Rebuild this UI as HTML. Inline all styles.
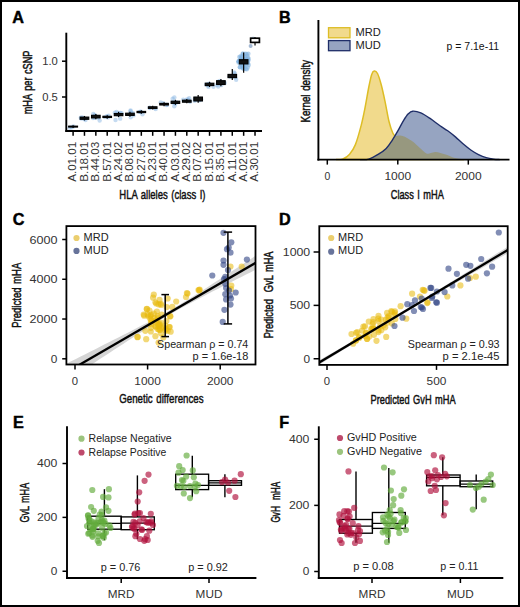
<!DOCTYPE html>
<html><head><meta charset="utf-8"><title>Figure</title>
<style>
html,body{margin:0;padding:0;background:#fff;}
svg{display:block;font-family:"Liberation Sans", sans-serif;}
</style></head>
<body>
<svg width="520" height="607" viewBox="0 0 520 607">
<rect x="0" y="0" width="520" height="607" fill="#fff"/>
<text x="12.2" y="22.5" font-size="16.2" font-weight="bold" fill="#000" stroke="#000" stroke-width="0.45">A</text>
<line x1="66.3" y1="32.7" x2="66.3" y2="131.95" stroke="#000" stroke-width="1.9"/>
<line x1="65.35" y1="131" x2="262" y2="131" stroke="#000" stroke-width="1.9"/>
<line x1="62" y1="61.2" x2="66.3" y2="61.2" stroke="#000" stroke-width="1.5"/>
<text x="57.8" y="64.9" font-size="10.6" fill="#333" text-anchor="end" textLength="15.6" lengthAdjust="spacingAndGlyphs">1.0</text>
<line x1="62" y1="97" x2="66.3" y2="97" stroke="#000" stroke-width="1.5"/>
<text x="57.8" y="100.7" font-size="10.6" fill="#333" text-anchor="end" textLength="15.6" lengthAdjust="spacingAndGlyphs">0.5</text>
<circle cx="71.69" cy="127.36" r="2.2" fill="#7FB0DF" fill-opacity="0.45"/>
<circle cx="69.68" cy="127.66" r="2.2" fill="#7FB0DF" fill-opacity="0.45"/>
<circle cx="73.39" cy="126.39" r="2.2" fill="#7FB0DF" fill-opacity="0.45"/>
<circle cx="84.53" cy="118.59" r="2.2" fill="#7FB0DF" fill-opacity="0.45"/>
<circle cx="80.77" cy="117.68" r="2.2" fill="#7FB0DF" fill-opacity="0.45"/>
<circle cx="81.2" cy="118.43" r="2.2" fill="#7FB0DF" fill-opacity="0.45"/>
<circle cx="83.87" cy="118.56" r="2.2" fill="#7FB0DF" fill-opacity="0.45"/>
<circle cx="82.26" cy="117.52" r="2.2" fill="#7FB0DF" fill-opacity="0.45"/>
<circle cx="85.49" cy="120.06" r="2.2" fill="#7FB0DF" fill-opacity="0.45"/>
<circle cx="95.01" cy="115.71" r="2.2" fill="#7FB0DF" fill-opacity="0.45"/>
<circle cx="99.65" cy="120.58" r="2.2" fill="#7FB0DF" fill-opacity="0.45"/>
<circle cx="94.16" cy="117.8" r="2.2" fill="#7FB0DF" fill-opacity="0.45"/>
<circle cx="92.99" cy="117.93" r="2.2" fill="#7FB0DF" fill-opacity="0.45"/>
<circle cx="98.37" cy="117.82" r="2.2" fill="#7FB0DF" fill-opacity="0.45"/>
<circle cx="93.29" cy="113.99" r="2.2" fill="#7FB0DF" fill-opacity="0.45"/>
<circle cx="94.82" cy="115.13" r="2.2" fill="#7FB0DF" fill-opacity="0.45"/>
<circle cx="96.22" cy="117.28" r="2.2" fill="#7FB0DF" fill-opacity="0.45"/>
<circle cx="104.86" cy="117.1" r="2.2" fill="#7FB0DF" fill-opacity="0.45"/>
<circle cx="108.65" cy="115.73" r="2.2" fill="#7FB0DF" fill-opacity="0.45"/>
<circle cx="107.89" cy="117.47" r="2.2" fill="#7FB0DF" fill-opacity="0.45"/>
<circle cx="106.84" cy="116.08" r="2.2" fill="#7FB0DF" fill-opacity="0.45"/>
<circle cx="120.17" cy="118.66" r="2.2" fill="#7FB0DF" fill-opacity="0.45"/>
<circle cx="116.53" cy="111.99" r="2.2" fill="#7FB0DF" fill-opacity="0.45"/>
<circle cx="121.58" cy="113.28" r="2.2" fill="#7FB0DF" fill-opacity="0.45"/>
<circle cx="120.42" cy="113.01" r="2.2" fill="#7FB0DF" fill-opacity="0.45"/>
<circle cx="115.52" cy="120" r="2.2" fill="#7FB0DF" fill-opacity="0.45"/>
<circle cx="117.92" cy="114.66" r="2.2" fill="#7FB0DF" fill-opacity="0.45"/>
<circle cx="118.49" cy="113.22" r="2.2" fill="#7FB0DF" fill-opacity="0.45"/>
<circle cx="114.89" cy="112.59" r="2.2" fill="#7FB0DF" fill-opacity="0.45"/>
<circle cx="130.53" cy="111.19" r="2.2" fill="#7FB0DF" fill-opacity="0.45"/>
<circle cx="132.95" cy="113.04" r="2.2" fill="#7FB0DF" fill-opacity="0.45"/>
<circle cx="130.7" cy="117.28" r="2.2" fill="#7FB0DF" fill-opacity="0.45"/>
<circle cx="130.59" cy="110.43" r="2.2" fill="#7FB0DF" fill-opacity="0.45"/>
<circle cx="133.51" cy="115.39" r="2.2" fill="#7FB0DF" fill-opacity="0.45"/>
<circle cx="129.74" cy="113.92" r="2.2" fill="#7FB0DF" fill-opacity="0.45"/>
<circle cx="131.56" cy="113.66" r="2.2" fill="#7FB0DF" fill-opacity="0.45"/>
<circle cx="142.5" cy="114.23" r="2.2" fill="#7FB0DF" fill-opacity="0.45"/>
<circle cx="139.6" cy="111.9" r="2.2" fill="#7FB0DF" fill-opacity="0.45"/>
<circle cx="140.41" cy="111.87" r="2.2" fill="#7FB0DF" fill-opacity="0.45"/>
<circle cx="141.01" cy="111.78" r="2.2" fill="#7FB0DF" fill-opacity="0.45"/>
<circle cx="150.03" cy="107.99" r="2.2" fill="#7FB0DF" fill-opacity="0.45"/>
<circle cx="154.84" cy="107.95" r="2.2" fill="#7FB0DF" fill-opacity="0.45"/>
<circle cx="149.72" cy="107.62" r="2.2" fill="#7FB0DF" fill-opacity="0.45"/>
<circle cx="155.66" cy="109.09" r="2.2" fill="#7FB0DF" fill-opacity="0.45"/>
<circle cx="160.7" cy="102.4" r="2.2" fill="#7FB0DF" fill-opacity="0.45"/>
<circle cx="167.13" cy="104.79" r="2.2" fill="#7FB0DF" fill-opacity="0.45"/>
<circle cx="166.61" cy="105" r="2.2" fill="#7FB0DF" fill-opacity="0.45"/>
<circle cx="163.38" cy="103.29" r="2.2" fill="#7FB0DF" fill-opacity="0.45"/>
<circle cx="174.3" cy="106.24" r="2.2" fill="#7FB0DF" fill-opacity="0.45"/>
<circle cx="172.64" cy="98.79" r="2.2" fill="#7FB0DF" fill-opacity="0.45"/>
<circle cx="172.84" cy="102.47" r="2.2" fill="#7FB0DF" fill-opacity="0.45"/>
<circle cx="175.31" cy="103.82" r="2.2" fill="#7FB0DF" fill-opacity="0.45"/>
<circle cx="176.14" cy="102.28" r="2.2" fill="#7FB0DF" fill-opacity="0.45"/>
<circle cx="174.78" cy="102.49" r="2.2" fill="#7FB0DF" fill-opacity="0.45"/>
<circle cx="174.38" cy="97.55" r="2.2" fill="#7FB0DF" fill-opacity="0.45"/>
<circle cx="188.32" cy="99.7" r="2.2" fill="#7FB0DF" fill-opacity="0.45"/>
<circle cx="186.92" cy="99.53" r="2.2" fill="#7FB0DF" fill-opacity="0.45"/>
<circle cx="183.23" cy="99.68" r="2.2" fill="#7FB0DF" fill-opacity="0.45"/>
<circle cx="190" cy="101.77" r="2.2" fill="#7FB0DF" fill-opacity="0.45"/>
<circle cx="189.18" cy="98.2" r="2.2" fill="#7FB0DF" fill-opacity="0.45"/>
<circle cx="185.94" cy="100.64" r="2.2" fill="#7FB0DF" fill-opacity="0.45"/>
<circle cx="199.24" cy="99.75" r="2.2" fill="#7FB0DF" fill-opacity="0.45"/>
<circle cx="194.67" cy="100.68" r="2.2" fill="#7FB0DF" fill-opacity="0.45"/>
<circle cx="195.47" cy="99.76" r="2.2" fill="#7FB0DF" fill-opacity="0.45"/>
<circle cx="196.89" cy="99.06" r="2.2" fill="#7FB0DF" fill-opacity="0.45"/>
<circle cx="195.38" cy="99.02" r="2.2" fill="#7FB0DF" fill-opacity="0.45"/>
<circle cx="194.98" cy="98.6" r="2.2" fill="#7FB0DF" fill-opacity="0.45"/>
<circle cx="201.16" cy="99.46" r="2.2" fill="#7FB0DF" fill-opacity="0.45"/>
<circle cx="199.08" cy="100.23" r="2.2" fill="#7FB0DF" fill-opacity="0.45"/>
<circle cx="208.32" cy="85.5" r="2.2" fill="#7FB0DF" fill-opacity="0.45"/>
<circle cx="208.45" cy="86.91" r="2.2" fill="#7FB0DF" fill-opacity="0.45"/>
<circle cx="213.48" cy="86.84" r="2.2" fill="#7FB0DF" fill-opacity="0.45"/>
<circle cx="209.27" cy="83.64" r="2.2" fill="#7FB0DF" fill-opacity="0.45"/>
<circle cx="206.36" cy="84.48" r="2.2" fill="#7FB0DF" fill-opacity="0.45"/>
<circle cx="208.28" cy="84.09" r="2.2" fill="#7FB0DF" fill-opacity="0.45"/>
<circle cx="218.2" cy="86.53" r="2.2" fill="#7FB0DF" fill-opacity="0.45"/>
<circle cx="217.09" cy="85.05" r="2.2" fill="#7FB0DF" fill-opacity="0.45"/>
<circle cx="218.08" cy="81.82" r="2.2" fill="#7FB0DF" fill-opacity="0.45"/>
<circle cx="221.26" cy="85.14" r="2.2" fill="#7FB0DF" fill-opacity="0.45"/>
<circle cx="224.74" cy="83.04" r="2.2" fill="#7FB0DF" fill-opacity="0.45"/>
<circle cx="223.82" cy="82.06" r="2.2" fill="#7FB0DF" fill-opacity="0.45"/>
<circle cx="219.84" cy="81.06" r="2.2" fill="#7FB0DF" fill-opacity="0.45"/>
<circle cx="229.62" cy="76.36" r="2.2" fill="#7FB0DF" fill-opacity="0.45"/>
<circle cx="234.51" cy="73.43" r="2.2" fill="#7FB0DF" fill-opacity="0.45"/>
<circle cx="230.92" cy="76.65" r="2.2" fill="#7FB0DF" fill-opacity="0.45"/>
<circle cx="236.16" cy="79.78" r="2.2" fill="#7FB0DF" fill-opacity="0.45"/>
<circle cx="235.1" cy="77.34" r="2.2" fill="#7FB0DF" fill-opacity="0.45"/>
<circle cx="234.2" cy="72.36" r="2.2" fill="#7FB0DF" fill-opacity="0.45"/>
<circle cx="240.81" cy="57.89" r="2.2" fill="#7FB0DF" fill-opacity="0.55"/>
<circle cx="238.75" cy="61.36" r="2.2" fill="#7FB0DF" fill-opacity="0.55"/>
<circle cx="238.74" cy="61.2" r="2.2" fill="#7FB0DF" fill-opacity="0.55"/>
<circle cx="245.65" cy="65" r="2.2" fill="#7FB0DF" fill-opacity="0.55"/>
<circle cx="248.4" cy="53.8" r="2.2" fill="#7FB0DF" fill-opacity="0.55"/>
<circle cx="248.73" cy="65.02" r="2.2" fill="#7FB0DF" fill-opacity="0.55"/>
<circle cx="248.38" cy="59.84" r="2.2" fill="#7FB0DF" fill-opacity="0.55"/>
<circle cx="240.81" cy="64.03" r="2.2" fill="#7FB0DF" fill-opacity="0.55"/>
<circle cx="240.5" cy="63.46" r="2.2" fill="#7FB0DF" fill-opacity="0.55"/>
<circle cx="247.81" cy="67.44" r="2.2" fill="#7FB0DF" fill-opacity="0.55"/>
<circle cx="247.19" cy="55.74" r="2.2" fill="#7FB0DF" fill-opacity="0.55"/>
<circle cx="246.77" cy="62.59" r="2.2" fill="#7FB0DF" fill-opacity="0.55"/>
<circle cx="239.33" cy="56.89" r="2.2" fill="#7FB0DF" fill-opacity="0.55"/>
<circle cx="246.59" cy="54" r="2.2" fill="#7FB0DF" fill-opacity="0.55"/>
<circle cx="246.25" cy="59.19" r="2.2" fill="#7FB0DF" fill-opacity="0.55"/>
<circle cx="246.66" cy="62.16" r="2.2" fill="#7FB0DF" fill-opacity="0.55"/>
<circle cx="241.91" cy="65.32" r="2.2" fill="#7FB0DF" fill-opacity="0.55"/>
<circle cx="242.57" cy="53.8" r="2.2" fill="#7FB0DF" fill-opacity="0.55"/>
<circle cx="242.62" cy="68.17" r="2.2" fill="#7FB0DF" fill-opacity="0.55"/>
<circle cx="240.22" cy="59.59" r="2.2" fill="#7FB0DF" fill-opacity="0.55"/>
<circle cx="239.77" cy="67.1" r="2.2" fill="#7FB0DF" fill-opacity="0.55"/>
<circle cx="246.84" cy="69.21" r="2.2" fill="#7FB0DF" fill-opacity="0.55"/>
<circle cx="239.97" cy="67.24" r="2.2" fill="#7FB0DF" fill-opacity="0.55"/>
<circle cx="245.29" cy="53.8" r="2.2" fill="#7FB0DF" fill-opacity="0.55"/>
<circle cx="242.09" cy="59.68" r="2.2" fill="#7FB0DF" fill-opacity="0.55"/>
<circle cx="238.6" cy="61.13" r="2.2" fill="#7FB0DF" fill-opacity="0.55"/>
<circle cx="248.55" cy="58.77" r="2.2" fill="#7FB0DF" fill-opacity="0.55"/>
<circle cx="248.16" cy="57.65" r="2.2" fill="#7FB0DF" fill-opacity="0.55"/>
<circle cx="242.96" cy="67.24" r="2.2" fill="#7FB0DF" fill-opacity="0.55"/>
<circle cx="240.64" cy="56.13" r="2.2" fill="#7FB0DF" fill-opacity="0.55"/>
<circle cx="241.07" cy="60.97" r="2.2" fill="#7FB0DF" fill-opacity="0.55"/>
<circle cx="244.55" cy="64.8" r="2.2" fill="#7FB0DF" fill-opacity="0.55"/>
<circle cx="241.15" cy="59.86" r="2.2" fill="#7FB0DF" fill-opacity="0.55"/>
<circle cx="247.91" cy="62.88" r="2.2" fill="#7FB0DF" fill-opacity="0.55"/>
<circle cx="242.13" cy="56.43" r="2.2" fill="#7FB0DF" fill-opacity="0.55"/>
<circle cx="247.85" cy="63.24" r="2.2" fill="#7FB0DF" fill-opacity="0.55"/>
<circle cx="242.82" cy="66.11" r="2.2" fill="#7FB0DF" fill-opacity="0.55"/>
<circle cx="243.98" cy="59.35" r="2.2" fill="#7FB0DF" fill-opacity="0.55"/>
<circle cx="243.89" cy="66.29" r="2.2" fill="#7FB0DF" fill-opacity="0.55"/>
<circle cx="240.35" cy="62.33" r="2.2" fill="#7FB0DF" fill-opacity="0.55"/>
<circle cx="238.49" cy="62.59" r="2.2" fill="#7FB0DF" fill-opacity="0.55"/>
<circle cx="243.37" cy="59.34" r="2.2" fill="#7FB0DF" fill-opacity="0.55"/>
<circle cx="245.99" cy="58.3" r="2.2" fill="#7FB0DF" fill-opacity="0.55"/>
<circle cx="243.84" cy="60.5" r="2.2" fill="#7FB0DF" fill-opacity="0.55"/>
<circle cx="244.23" cy="62.23" r="2.2" fill="#7FB0DF" fill-opacity="0.55"/>
<circle cx="244.28" cy="59.86" r="2.2" fill="#7FB0DF" fill-opacity="0.55"/>
<circle cx="241.03" cy="60.58" r="2.2" fill="#7FB0DF" fill-opacity="0.55"/>
<circle cx="243.73" cy="68.92" r="2.2" fill="#7FB0DF" fill-opacity="0.55"/>
<circle cx="244.29" cy="62.38" r="2.2" fill="#7FB0DF" fill-opacity="0.55"/>
<circle cx="243.06" cy="53.8" r="2.2" fill="#7FB0DF" fill-opacity="0.55"/>
<circle cx="244.82" cy="56.77" r="2.2" fill="#7FB0DF" fill-opacity="0.55"/>
<circle cx="245.65" cy="61.62" r="2.2" fill="#7FB0DF" fill-opacity="0.55"/>
<circle cx="243.15" cy="57.12" r="2.2" fill="#7FB0DF" fill-opacity="0.55"/>
<circle cx="248.24" cy="60.81" r="2.2" fill="#7FB0DF" fill-opacity="0.55"/>
<circle cx="245.72" cy="68.96" r="2.2" fill="#7FB0DF" fill-opacity="0.55"/>
<circle cx="253.1" cy="38.8" r="2.2" fill="#7FB0DF" fill-opacity="0.45"/>
<circle cx="250.6" cy="45.9" r="2.0" fill="#8FA8C8" fill-opacity="0.8"/>
<line x1="73.1" y1="125.2" x2="73.1" y2="128" stroke="#000" stroke-width="1.2"/>
<rect x="68.6" y="126.1" width="9" height="1" fill="#111" stroke="#000" stroke-width="1.0" />
<line x1="84.47" y1="115.95" x2="84.47" y2="120.45" stroke="#000" stroke-width="1.2"/>
<rect x="80.17" y="117.1" width="8.6" height="2.2" fill="#111" stroke="#000" stroke-width="1.1" />
<line x1="95.84" y1="113.9" x2="95.84" y2="119.3" stroke="#000" stroke-width="1.2"/>
<rect x="91.54" y="115.3" width="8.6" height="2.6" fill="#111" stroke="#000" stroke-width="1.1" />
<line x1="107.21" y1="115.15" x2="107.21" y2="118.65" stroke="#000" stroke-width="1.2"/>
<rect x="102.91" y="116.3" width="8.6" height="1.2" fill="#111" stroke="#000" stroke-width="1.1" />
<line x1="118.58" y1="111.85" x2="118.58" y2="117.1" stroke="#000" stroke-width="1.2"/>
<rect x="114.28" y="113.5" width="8.6" height="2.2" fill="#111" stroke="#000" stroke-width="1.1" />
<line x1="129.95" y1="111.8" x2="129.95" y2="116.8" stroke="#000" stroke-width="1.2"/>
<rect x="125.65" y="113.2" width="8.6" height="2.2" fill="#111" stroke="#000" stroke-width="1.1" />
<line x1="141.32" y1="110.25" x2="141.32" y2="113.75" stroke="#000" stroke-width="1.2"/>
<rect x="137.02" y="111.4" width="8.6" height="1.2" fill="#111" stroke="#000" stroke-width="1.1" />
<line x1="152.69" y1="105.65" x2="152.69" y2="109.55" stroke="#000" stroke-width="1.2"/>
<rect x="148.39" y="106.8" width="8.6" height="1.6" fill="#111" stroke="#000" stroke-width="1.1" />
<line x1="164.06" y1="102.25" x2="164.06" y2="106.15" stroke="#000" stroke-width="1.2"/>
<rect x="159.76" y="103.4" width="8.6" height="1.6" fill="#111" stroke="#000" stroke-width="1.1" />
<line x1="175.43" y1="99.8" x2="175.43" y2="104.8" stroke="#000" stroke-width="1.2"/>
<rect x="171.13" y="101.2" width="8.6" height="2.2" fill="#111" stroke="#000" stroke-width="1.1" />
<line x1="186.8" y1="99.05" x2="186.8" y2="103.35" stroke="#000" stroke-width="1.2"/>
<rect x="182.5" y="100.2" width="8.6" height="2" fill="#111" stroke="#000" stroke-width="1.1" />
<line x1="198.17" y1="94.9" x2="198.17" y2="102.85" stroke="#000" stroke-width="1.2"/>
<rect x="193.87" y="97.05" width="8.6" height="3.9" fill="#111" stroke="#000" stroke-width="1.1" />
<line x1="209.54" y1="81.8" x2="209.54" y2="87" stroke="#000" stroke-width="1.2"/>
<rect x="205.24" y="83.2" width="8.6" height="2.4" fill="#111" stroke="#000" stroke-width="1.1" />
<line x1="220.91" y1="79.05" x2="220.91" y2="86.15" stroke="#000" stroke-width="1.2"/>
<rect x="216.61" y="80.7" width="8.6" height="3.8" fill="#111" stroke="#000" stroke-width="1.1" />
<line x1="232.28" y1="69" x2="232.28" y2="80" stroke="#000" stroke-width="1.2"/>
<rect x="227.98" y="74.4" width="8.6" height="3.2" fill="#111" stroke="#000" stroke-width="1.1" />
<line x1="243.65" y1="52.4" x2="243.65" y2="72.8" stroke="#000" stroke-width="1.2"/>
<rect x="239.35" y="59.7" width="8.6" height="4.2" fill="#111" stroke="#000" stroke-width="1.1" />
<line x1="255.02" y1="37.2" x2="255.02" y2="45.4" stroke="#000" stroke-width="1.2"/>
<rect x="250.62" y="38.2" width="8.8" height="4.2" fill="#fff" stroke="#000" stroke-width="1.7" />
<line x1="73.1" y1="131" x2="73.1" y2="135.8" stroke="#000" stroke-width="1.5"/>
<text transform="translate(76.4,141.8) rotate(-90)" font-size="11.2" fill="#333" text-anchor="end" textLength="40" lengthAdjust="spacingAndGlyphs">A.01.01</text>
<line x1="84.47" y1="131" x2="84.47" y2="135.8" stroke="#000" stroke-width="1.5"/>
<text transform="translate(87.77,141.8) rotate(-90)" font-size="11.2" fill="#333" text-anchor="end" textLength="40" lengthAdjust="spacingAndGlyphs">B.18.01</text>
<line x1="95.84" y1="131" x2="95.84" y2="135.8" stroke="#000" stroke-width="1.5"/>
<text transform="translate(99.14,141.8) rotate(-90)" font-size="11.2" fill="#333" text-anchor="end" textLength="40" lengthAdjust="spacingAndGlyphs">B.44.03</text>
<line x1="107.21" y1="131" x2="107.21" y2="135.8" stroke="#000" stroke-width="1.5"/>
<text transform="translate(110.51,141.8) rotate(-90)" font-size="11.2" fill="#333" text-anchor="end" textLength="40" lengthAdjust="spacingAndGlyphs">B.57.01</text>
<line x1="118.58" y1="131" x2="118.58" y2="135.8" stroke="#000" stroke-width="1.5"/>
<text transform="translate(121.88,141.8) rotate(-90)" font-size="11.2" fill="#333" text-anchor="end" textLength="40" lengthAdjust="spacingAndGlyphs">A.24.02</text>
<line x1="129.95" y1="131" x2="129.95" y2="135.8" stroke="#000" stroke-width="1.5"/>
<text transform="translate(133.25,141.8) rotate(-90)" font-size="11.2" fill="#333" text-anchor="end" textLength="40" lengthAdjust="spacingAndGlyphs">B.08.01</text>
<line x1="141.32" y1="131" x2="141.32" y2="135.8" stroke="#000" stroke-width="1.5"/>
<text transform="translate(144.62,141.8) rotate(-90)" font-size="11.2" fill="#333" text-anchor="end" textLength="40" lengthAdjust="spacingAndGlyphs">B.27.05</text>
<line x1="152.69" y1="131" x2="152.69" y2="135.8" stroke="#000" stroke-width="1.5"/>
<text transform="translate(155.99,141.8) rotate(-90)" font-size="11.2" fill="#333" text-anchor="end" textLength="40" lengthAdjust="spacingAndGlyphs">A.23.01</text>
<line x1="164.06" y1="131" x2="164.06" y2="135.8" stroke="#000" stroke-width="1.5"/>
<text transform="translate(167.36,141.8) rotate(-90)" font-size="11.2" fill="#333" text-anchor="end" textLength="40" lengthAdjust="spacingAndGlyphs">B.40.01</text>
<line x1="175.43" y1="131" x2="175.43" y2="135.8" stroke="#000" stroke-width="1.5"/>
<text transform="translate(178.73,141.8) rotate(-90)" font-size="11.2" fill="#333" text-anchor="end" textLength="40" lengthAdjust="spacingAndGlyphs">A.03.01</text>
<line x1="186.8" y1="131" x2="186.8" y2="135.8" stroke="#000" stroke-width="1.5"/>
<text transform="translate(190.1,141.8) rotate(-90)" font-size="11.2" fill="#333" text-anchor="end" textLength="40" lengthAdjust="spacingAndGlyphs">A.29.02</text>
<line x1="198.17" y1="131" x2="198.17" y2="135.8" stroke="#000" stroke-width="1.5"/>
<text transform="translate(201.47,141.8) rotate(-90)" font-size="11.2" fill="#333" text-anchor="end" textLength="40" lengthAdjust="spacingAndGlyphs">B.07.02</text>
<line x1="209.54" y1="131" x2="209.54" y2="135.8" stroke="#000" stroke-width="1.5"/>
<text transform="translate(212.84,141.8) rotate(-90)" font-size="11.2" fill="#333" text-anchor="end" textLength="40" lengthAdjust="spacingAndGlyphs">B.15.01</text>
<line x1="220.91" y1="131" x2="220.91" y2="135.8" stroke="#000" stroke-width="1.5"/>
<text transform="translate(224.21,141.8) rotate(-90)" font-size="11.2" fill="#333" text-anchor="end" textLength="40" lengthAdjust="spacingAndGlyphs">B.35.01</text>
<line x1="232.28" y1="131" x2="232.28" y2="135.8" stroke="#000" stroke-width="1.5"/>
<text transform="translate(235.58,141.8) rotate(-90)" font-size="11.2" fill="#333" text-anchor="end" textLength="40" lengthAdjust="spacingAndGlyphs">A.11.01</text>
<line x1="243.65" y1="131" x2="243.65" y2="135.8" stroke="#000" stroke-width="1.5"/>
<text transform="translate(246.95,141.8) rotate(-90)" font-size="11.2" fill="#333" text-anchor="end" textLength="40" lengthAdjust="spacingAndGlyphs">A.02.01</text>
<line x1="255.02" y1="131" x2="255.02" y2="135.8" stroke="#000" stroke-width="1.5"/>
<text transform="translate(258.32,141.8) rotate(-90)" font-size="11.2" fill="#333" text-anchor="end" textLength="40" lengthAdjust="spacingAndGlyphs">A.30.01</text>
<text x="119.3" y="198.8" font-size="13.6" fill="#111" stroke="#111" stroke-width="0.48" word-spacing="1.3" textLength="86.2" lengthAdjust="spacingAndGlyphs">HLA alleles (class I)</text>
<text transform="translate(32.3,114.3) rotate(-90)" font-size="12.4" fill="#111" stroke="#111" stroke-width="0.48" word-spacing="1.3" textLength="63.8" lengthAdjust="spacingAndGlyphs">mHA per cSNP</text>
<text x="279" y="23" font-size="16.2" font-weight="bold" fill="#000" stroke="#000" stroke-width="0.45">B</text>
<clipPath id="clipmud"><path d="M360,159.6 C361.47,159.52 365.72,160 368.8,159.1 C371.88,158.2 375.6,155.97 378.5,154.2 C381.4,152.43 383.97,150.73 386.2,148.5 C388.43,146.27 389.98,143.68 391.9,140.8 C393.82,137.92 395.77,134.57 397.7,131.2 C399.63,127.83 401.73,123.5 403.5,120.6 C405.27,117.7 406.77,115.37 408.3,113.8 C409.83,112.23 410.62,111.35 412.7,111.2 C414.78,111.05 417.85,111.65 420.8,112.9 C423.75,114.15 427.2,116.55 430.4,118.7 C433.6,120.85 437.12,123.78 440,125.8 C442.88,127.82 445.13,128.95 447.7,130.8 C450.27,132.65 452.85,134.73 455.4,136.9 C457.95,139.07 460.43,141.62 463,143.8 C465.57,145.98 468.22,148.2 470.8,150 C473.38,151.8 475.93,153.32 478.5,154.6 C481.07,155.88 483.65,156.93 486.2,157.7 C488.75,158.47 491.5,158.88 493.8,159.2 C496.1,159.52 498.97,159.53 500,159.6 Z"/></clipPath>
<path d="M336,159.6 C337.15,159.5 340.63,159.9 342.9,159 C345.17,158.1 347.52,156.6 349.6,154.2 C351.68,151.8 353.47,149.4 355.4,144.6 C357.33,139.8 359.6,131.5 361.2,125.4 C362.8,119.3 363.73,114.4 365,108 C366.27,101.6 367.68,92.6 368.8,87 C369.92,81.4 370.8,77.07 371.7,74.4 C372.6,71.73 373.23,71.15 374.2,71 C375.17,70.85 376.32,71.17 377.5,73.5 C378.68,75.83 380.02,80.2 381.3,85 C382.58,89.8 383.92,96.22 385.2,102.3 C386.48,108.38 387.72,116.35 389,121.5 C390.28,126.65 391.8,130.78 392.9,133.2 C394,135.62 394.58,135.6 395.6,136 C396.62,136.4 397.6,135.53 399,135.6 C400.4,135.67 402.58,135.97 404,136.4 C405.42,136.83 406.05,137.33 407.5,138.2 C408.95,139.07 410.68,140.02 412.7,141.6 C414.72,143.18 417.3,145.73 419.6,147.7 C421.9,149.67 424.63,152.5 426.5,153.4 C428.37,154.3 429.35,153.33 430.8,153.1 C432.25,152.87 433.6,152.03 435.2,152 C436.8,151.97 438.67,152.47 440.4,152.9 C442.13,153.33 443.58,153.88 445.6,154.6 C447.62,155.32 450.48,156.53 452.5,157.2 C454.52,157.87 455.78,158.2 457.7,158.6 C459.62,159 462.95,159.43 464,159.6 Z" fill="#F1DA8C" stroke="#DDBD25" stroke-width="1.5"/>
<path d="M360,159.6 C361.47,159.52 365.72,160 368.8,159.1 C371.88,158.2 375.6,155.97 378.5,154.2 C381.4,152.43 383.97,150.73 386.2,148.5 C388.43,146.27 389.98,143.68 391.9,140.8 C393.82,137.92 395.77,134.57 397.7,131.2 C399.63,127.83 401.73,123.5 403.5,120.6 C405.27,117.7 406.77,115.37 408.3,113.8 C409.83,112.23 410.62,111.35 412.7,111.2 C414.78,111.05 417.85,111.65 420.8,112.9 C423.75,114.15 427.2,116.55 430.4,118.7 C433.6,120.85 437.12,123.78 440,125.8 C442.88,127.82 445.13,128.95 447.7,130.8 C450.27,132.65 452.85,134.73 455.4,136.9 C457.95,139.07 460.43,141.62 463,143.8 C465.57,145.98 468.22,148.2 470.8,150 C473.38,151.8 475.93,153.32 478.5,154.6 C481.07,155.88 483.65,156.93 486.2,157.7 C488.75,158.47 491.5,158.88 493.8,159.2 C496.1,159.52 498.97,159.53 500,159.6 Z" fill="#96A4C1"/>
<path d="M336,159.6 C337.15,159.5 340.63,159.9 342.9,159 C345.17,158.1 347.52,156.6 349.6,154.2 C351.68,151.8 353.47,149.4 355.4,144.6 C357.33,139.8 359.6,131.5 361.2,125.4 C362.8,119.3 363.73,114.4 365,108 C366.27,101.6 367.68,92.6 368.8,87 C369.92,81.4 370.8,77.07 371.7,74.4 C372.6,71.73 373.23,71.15 374.2,71 C375.17,70.85 376.32,71.17 377.5,73.5 C378.68,75.83 380.02,80.2 381.3,85 C382.58,89.8 383.92,96.22 385.2,102.3 C386.48,108.38 387.72,116.35 389,121.5 C390.28,126.65 391.8,130.78 392.9,133.2 C394,135.62 394.58,135.6 395.6,136 C396.62,136.4 397.6,135.53 399,135.6 C400.4,135.67 402.58,135.97 404,136.4 C405.42,136.83 406.05,137.33 407.5,138.2 C408.95,139.07 410.68,140.02 412.7,141.6 C414.72,143.18 417.3,145.73 419.6,147.7 C421.9,149.67 424.63,152.5 426.5,153.4 C428.37,154.3 429.35,153.33 430.8,153.1 C432.25,152.87 433.6,152.03 435.2,152 C436.8,151.97 438.67,152.47 440.4,152.9 C442.13,153.33 443.58,153.88 445.6,154.6 C447.62,155.32 450.48,156.53 452.5,157.2 C454.52,157.87 455.78,158.2 457.7,158.6 C459.62,159 462.95,159.43 464,159.6 Z" fill="#97987F" clip-path="url(#clipmud)"/>
<path d="M360,159.6 C361.47,159.52 365.72,160 368.8,159.1 C371.88,158.2 375.6,155.97 378.5,154.2 C381.4,152.43 383.97,150.73 386.2,148.5 C388.43,146.27 389.98,143.68 391.9,140.8 C393.82,137.92 395.77,134.57 397.7,131.2 C399.63,127.83 401.73,123.5 403.5,120.6 C405.27,117.7 406.77,115.37 408.3,113.8 C409.83,112.23 410.62,111.35 412.7,111.2 C414.78,111.05 417.85,111.65 420.8,112.9 C423.75,114.15 427.2,116.55 430.4,118.7 C433.6,120.85 437.12,123.78 440,125.8 C442.88,127.82 445.13,128.95 447.7,130.8 C450.27,132.65 452.85,134.73 455.4,136.9 C457.95,139.07 460.43,141.62 463,143.8 C465.57,145.98 468.22,148.2 470.8,150 C473.38,151.8 475.93,153.32 478.5,154.6 C481.07,155.88 483.65,156.93 486.2,157.7 C488.75,158.47 491.5,158.88 493.8,159.2 C496.1,159.52 498.97,159.53 500,159.6" fill="none" stroke="#1F2E68" stroke-width="1.4"/>
<line x1="318.4" y1="20" x2="318.4" y2="160.55" stroke="#000" stroke-width="1.9"/>
<line x1="317.45" y1="159.6" x2="509.5" y2="159.6" stroke="#000" stroke-width="1.9"/>
<line x1="327.3" y1="159.6" x2="327.3" y2="164.6" stroke="#000" stroke-width="1.5"/>
<text x="327.3" y="179.7" font-size="10.4" fill="#333" text-anchor="middle" textLength="5.8" lengthAdjust="spacingAndGlyphs">0</text>
<line x1="397.8" y1="159.6" x2="397.8" y2="164.6" stroke="#000" stroke-width="1.5"/>
<text x="397.8" y="179.7" font-size="10.4" fill="#333" text-anchor="middle" textLength="26.7" lengthAdjust="spacingAndGlyphs">1000</text>
<line x1="468.3" y1="159.6" x2="468.3" y2="164.6" stroke="#000" stroke-width="1.5"/>
<text x="468.3" y="179.7" font-size="10.4" fill="#333" text-anchor="middle" textLength="26.7" lengthAdjust="spacingAndGlyphs">2000</text>
<rect x="328.5" y="27.7" width="21.5" height="10.1" fill="#F1DA8C" stroke="#DDBD25" stroke-width="1.3" />
<rect x="328.5" y="40.6" width="21.5" height="10.1" fill="#96A4C1" stroke="#1F2E68" stroke-width="1.3" />
<text x="355.4" y="36.3" font-size="11.4" fill="#222" textLength="25.3" lengthAdjust="spacingAndGlyphs">MRD</text>
<text x="355.4" y="49.4" font-size="11.4" fill="#222" textLength="25.3" lengthAdjust="spacingAndGlyphs">MUD</text>
<text x="446.6" y="49.7" font-size="10.2" fill="#111" textLength="52.4" lengthAdjust="spacingAndGlyphs">p = 7.1e-11</text>
<text transform="translate(309.5,122.6) rotate(-90)" font-size="12.3" fill="#111" stroke="#111" stroke-width="0.48" word-spacing="1.3" textLength="62.6" lengthAdjust="spacingAndGlyphs">Kernel density</text>
<text x="390.8" y="199" font-size="13.4" fill="#111" stroke="#111" stroke-width="0.48" word-spacing="1.3" textLength="53" lengthAdjust="spacingAndGlyphs">Class I mHA</text>
<text x="12.8" y="224.8" font-size="16.2" font-weight="bold" fill="#000" stroke="#000" stroke-width="0.45">C</text>
<clipPath id="clipC"><rect x="66.4" y="226.1" width="189.1" height="138.4"/></clipPath>
<clipPath id="clipD"><rect x="319.3" y="226.2" width="188.4" height="138.4"/></clipPath>
<g clip-path="url(#clipC)">
<polygon points="66.4,363.63 71.13,361.26 75.86,358.88 80.58,356.51 85.31,354.14 90.04,351.76 94.77,349.38 99.49,347 104.22,344.62 108.95,342.23 113.68,339.84 118.4,337.45 123.13,335.05 127.86,332.64 132.59,330.22 137.31,327.79 142.04,325.35 146.77,322.89 151.5,320.4 156.22,317.87 160.95,315.31 165.68,312.69 170.41,310.01 175.13,307.26 179.86,304.45 184.59,301.57 189.31,298.65 194.04,295.69 198.77,292.69 203.5,289.67 208.22,286.64 212.95,283.59 217.68,280.53 222.41,277.46 227.13,274.38 231.86,271.3 236.59,268.21 241.32,265.13 246.05,262.03 250.77,258.94 255.5,255.84 255.5,269.85 250.77,272.22 246.05,274.6 241.32,276.98 236.59,279.37 231.86,281.76 227.13,284.15 222.41,286.55 217.68,288.96 212.95,291.37 208.22,293.79 203.5,296.23 198.77,298.69 194.04,301.17 189.31,303.68 184.59,306.23 179.86,308.83 175.13,311.49 170.41,314.22 165.68,317.01 160.95,319.87 156.22,322.78 151.5,325.73 146.77,328.71 142.04,331.72 137.31,334.75 132.59,337.8 127.86,340.86 123.13,343.92 118.4,347 113.68,350.08 108.95,353.16 104.22,356.25 99.49,359.34 94.77,362.43 90.04,365.53 85.31,368.63 80.58,371.73 75.86,374.83 71.13,377.93 66.4,381.04" fill="#D5D5D5"/>
<circle cx="153.8" cy="294.6" r="3.1" fill="#E8B90C" fill-opacity="0.56"/>
<circle cx="153.1" cy="297.7" r="3.1" fill="#E8B90C" fill-opacity="0.56"/>
<circle cx="155.4" cy="302.3" r="3.1" fill="#E8B90C" fill-opacity="0.56"/>
<circle cx="160.8" cy="303.8" r="3.1" fill="#E8B90C" fill-opacity="0.56"/>
<circle cx="167.7" cy="298.5" r="3.1" fill="#E8B90C" fill-opacity="0.56"/>
<circle cx="176.2" cy="301.5" r="3.1" fill="#E8B90C" fill-opacity="0.56"/>
<circle cx="186.9" cy="293.1" r="3.1" fill="#E8B90C" fill-opacity="0.56"/>
<circle cx="198.5" cy="290" r="3.1" fill="#E8B90C" fill-opacity="0.56"/>
<circle cx="187.5" cy="293.6" r="3.1" fill="#E8B90C" fill-opacity="0.56"/>
<circle cx="199.6" cy="289.5" r="3.1" fill="#E8B90C" fill-opacity="0.56"/>
<circle cx="146.9" cy="309.2" r="3.1" fill="#E8B90C" fill-opacity="0.56"/>
<circle cx="147.7" cy="314.6" r="3.1" fill="#E8B90C" fill-opacity="0.56"/>
<circle cx="150.5" cy="316" r="3.1" fill="#E8B90C" fill-opacity="0.56"/>
<circle cx="156.9" cy="311.5" r="3.1" fill="#E8B90C" fill-opacity="0.56"/>
<circle cx="161.5" cy="314.6" r="3.1" fill="#E8B90C" fill-opacity="0.56"/>
<circle cx="170" cy="316.2" r="3.1" fill="#E8B90C" fill-opacity="0.56"/>
<circle cx="172.3" cy="306.9" r="3.1" fill="#E8B90C" fill-opacity="0.56"/>
<circle cx="169.2" cy="327" r="3.1" fill="#E8B90C" fill-opacity="0.56"/>
<circle cx="137.7" cy="336.9" r="3.1" fill="#E8B90C" fill-opacity="0.56"/>
<circle cx="146.2" cy="339.2" r="3.1" fill="#E8B90C" fill-opacity="0.56"/>
<circle cx="155.4" cy="336.2" r="3.1" fill="#E8B90C" fill-opacity="0.56"/>
<circle cx="150.8" cy="331.5" r="3.1" fill="#E8B90C" fill-opacity="0.56"/>
<circle cx="160" cy="330" r="3.1" fill="#E8B90C" fill-opacity="0.56"/>
<circle cx="146.8" cy="308.9" r="3.1" fill="#E8B90C" fill-opacity="0.56"/>
<circle cx="156.2" cy="303.5" r="3.1" fill="#E8B90C" fill-opacity="0.56"/>
<circle cx="161" cy="305" r="3.1" fill="#E8B90C" fill-opacity="0.56"/>
<circle cx="170.4" cy="316.3" r="3.1" fill="#E8B90C" fill-opacity="0.56"/>
<circle cx="169.7" cy="327.1" r="3.1" fill="#E8B90C" fill-opacity="0.56"/>
<circle cx="137.4" cy="337.2" r="3.1" fill="#E8B90C" fill-opacity="0.56"/>
<circle cx="199.3" cy="290.4" r="3.1" fill="#E8B90C" fill-opacity="0.56"/>
<circle cx="230.5" cy="266.5" r="3.1" fill="#E8B90C" fill-opacity="0.56"/>
<circle cx="241.7" cy="266.5" r="3.1" fill="#E8B90C" fill-opacity="0.56"/>
<circle cx="231.3" cy="285.6" r="3.1" fill="#E8B90C" fill-opacity="0.56"/>
<circle cx="231" cy="289" r="3.1" fill="#E8B90C" fill-opacity="0.56"/>
<circle cx="186" cy="297" r="3.1" fill="#E8B90C" fill-opacity="0.56"/>
<circle cx="143.73" cy="314.56" r="3.1" fill="#E8B90C" fill-opacity="0.56"/>
<circle cx="157.6" cy="318.1" r="3.1" fill="#E8B90C" fill-opacity="0.56"/>
<circle cx="160.29" cy="328.35" r="3.1" fill="#E8B90C" fill-opacity="0.56"/>
<circle cx="159.66" cy="324.78" r="3.1" fill="#E8B90C" fill-opacity="0.56"/>
<circle cx="163.34" cy="327.61" r="3.1" fill="#E8B90C" fill-opacity="0.56"/>
<circle cx="158.48" cy="304.29" r="3.1" fill="#E8B90C" fill-opacity="0.56"/>
<circle cx="160.93" cy="333.13" r="3.1" fill="#E8B90C" fill-opacity="0.56"/>
<circle cx="154.37" cy="318.01" r="3.1" fill="#E8B90C" fill-opacity="0.56"/>
<circle cx="166.67" cy="307.06" r="3.1" fill="#E8B90C" fill-opacity="0.56"/>
<circle cx="158.58" cy="342.6" r="3.1" fill="#E8B90C" fill-opacity="0.56"/>
<circle cx="150.9" cy="327.86" r="3.1" fill="#E8B90C" fill-opacity="0.56"/>
<circle cx="166.38" cy="320.98" r="3.1" fill="#E8B90C" fill-opacity="0.56"/>
<circle cx="159.09" cy="329.67" r="3.1" fill="#E8B90C" fill-opacity="0.56"/>
<circle cx="151.02" cy="321.24" r="3.1" fill="#E8B90C" fill-opacity="0.56"/>
<circle cx="157.61" cy="329.02" r="3.1" fill="#E8B90C" fill-opacity="0.56"/>
<circle cx="155.81" cy="320.34" r="3.1" fill="#E8B90C" fill-opacity="0.56"/>
<circle cx="150.41" cy="318.95" r="3.1" fill="#E8B90C" fill-opacity="0.56"/>
<circle cx="160.9" cy="322.86" r="3.1" fill="#E8B90C" fill-opacity="0.56"/>
<circle cx="151.31" cy="314.85" r="3.1" fill="#E8B90C" fill-opacity="0.56"/>
<circle cx="170.67" cy="331.69" r="3.1" fill="#E8B90C" fill-opacity="0.56"/>
<circle cx="159.51" cy="299.96" r="3.1" fill="#E8B90C" fill-opacity="0.56"/>
<circle cx="159.42" cy="326.09" r="3.1" fill="#E8B90C" fill-opacity="0.56"/>
<circle cx="165.26" cy="325.64" r="3.1" fill="#E8B90C" fill-opacity="0.56"/>
<circle cx="155.63" cy="326.44" r="3.1" fill="#E8B90C" fill-opacity="0.56"/>
<circle cx="145.31" cy="330.78" r="3.1" fill="#E8B90C" fill-opacity="0.56"/>
<circle cx="157.79" cy="316.03" r="3.1" fill="#E8B90C" fill-opacity="0.56"/>
<circle cx="163.29" cy="337.38" r="3.1" fill="#E8B90C" fill-opacity="0.56"/>
<circle cx="148.29" cy="316.34" r="3.1" fill="#E8B90C" fill-opacity="0.56"/>
<circle cx="157.6" cy="323.56" r="3.1" fill="#E8B90C" fill-opacity="0.56"/>
<circle cx="153.81" cy="313.72" r="3.1" fill="#E8B90C" fill-opacity="0.56"/>
<circle cx="167.66" cy="330.82" r="3.1" fill="#E8B90C" fill-opacity="0.56"/>
<circle cx="149.43" cy="310.57" r="3.1" fill="#E8B90C" fill-opacity="0.56"/>
<circle cx="165.37" cy="330.41" r="3.1" fill="#E8B90C" fill-opacity="0.56"/>
<circle cx="166.02" cy="328.89" r="3.1" fill="#E8B90C" fill-opacity="0.56"/>
<circle cx="151.2" cy="324.22" r="3.1" fill="#E8B90C" fill-opacity="0.56"/>
<circle cx="144.12" cy="315.64" r="3.1" fill="#E8B90C" fill-opacity="0.56"/>
<circle cx="155.68" cy="326.44" r="3.1" fill="#E8B90C" fill-opacity="0.56"/>
<circle cx="152" cy="320.94" r="3.1" fill="#E8B90C" fill-opacity="0.56"/>
<circle cx="158.52" cy="325.2" r="3.1" fill="#E8B90C" fill-opacity="0.56"/>
<circle cx="159.51" cy="323.78" r="3.1" fill="#E8B90C" fill-opacity="0.56"/>
<circle cx="223.5" cy="232.8" r="3.1" fill="#2E4383" fill-opacity="0.6"/>
<circle cx="231.3" cy="242.3" r="3.1" fill="#2E4383" fill-opacity="0.6"/>
<circle cx="228.7" cy="247.5" r="3.1" fill="#2E4383" fill-opacity="0.6"/>
<circle cx="227" cy="249.2" r="3.1" fill="#2E4383" fill-opacity="0.6"/>
<circle cx="230.5" cy="252.7" r="3.1" fill="#2E4383" fill-opacity="0.6"/>
<circle cx="223.5" cy="260.5" r="3.1" fill="#2E4383" fill-opacity="0.6"/>
<circle cx="223.5" cy="264.8" r="3.1" fill="#2E4383" fill-opacity="0.6"/>
<circle cx="246.9" cy="259.6" r="3.1" fill="#2E4383" fill-opacity="0.6"/>
<circle cx="212.3" cy="275.5" r="3.1" fill="#2E4383" fill-opacity="0.6"/>
<circle cx="225.3" cy="276.9" r="3.1" fill="#2E4383" fill-opacity="0.6"/>
<circle cx="225.3" cy="283.8" r="3.1" fill="#2E4383" fill-opacity="0.6"/>
<circle cx="226.1" cy="288.1" r="3.1" fill="#2E4383" fill-opacity="0.6"/>
<circle cx="229" cy="290.5" r="3.1" fill="#2E4383" fill-opacity="0.6"/>
<circle cx="235.7" cy="292.5" r="3.1" fill="#2E4383" fill-opacity="0.6"/>
<circle cx="225.3" cy="294.2" r="3.1" fill="#2E4383" fill-opacity="0.6"/>
<circle cx="230" cy="295.5" r="3.1" fill="#2E4383" fill-opacity="0.6"/>
<circle cx="226.1" cy="299.4" r="3.1" fill="#2E4383" fill-opacity="0.6"/>
<circle cx="231" cy="298.5" r="3.1" fill="#2E4383" fill-opacity="0.6"/>
<circle cx="230.5" cy="304.6" r="3.1" fill="#2E4383" fill-opacity="0.6"/>
<circle cx="224.4" cy="309.8" r="3.1" fill="#2E4383" fill-opacity="0.6"/>
<circle cx="222.7" cy="321.9" r="3.1" fill="#2E4383" fill-opacity="0.6"/>
<circle cx="228" cy="270" r="3.1" fill="#2E4383" fill-opacity="0.6"/>
<circle cx="224" cy="279" r="3.1" fill="#2E4383" fill-opacity="0.6"/>
<line x1="61.400000000000006" y1="375.23" x2="260.5" y2="259.95" stroke="#000" stroke-width="2.3"/>
</g>
<line x1="165.2" y1="294.6" x2="165.2" y2="336.6" stroke="#000" stroke-width="1.5"/>
<line x1="161.4" y1="294.6" x2="169" y2="294.6" stroke="#000" stroke-width="1.5"/>
<line x1="161.4" y1="336.6" x2="169" y2="336.6" stroke="#000" stroke-width="1.5"/>
<line x1="227.9" y1="232.1" x2="227.9" y2="323.9" stroke="#000" stroke-width="1.5"/>
<line x1="223.7" y1="232.1" x2="232.1" y2="232.1" stroke="#000" stroke-width="1.5"/>
<line x1="223.7" y1="323.9" x2="232.1" y2="323.9" stroke="#000" stroke-width="1.5"/>
<rect x="66.4" y="226.1" width="189.1" height="138.4" fill="none" stroke="#000" stroke-width="1.8" />
<line x1="62.2" y1="358.8" x2="66.4" y2="358.8" stroke="#000" stroke-width="1.5"/>
<text x="57.4" y="362.9" font-size="11.3" fill="#333" text-anchor="end" textLength="6.6" lengthAdjust="spacingAndGlyphs">0</text>
<line x1="62.2" y1="319.03" x2="66.4" y2="319.03" stroke="#000" stroke-width="1.5"/>
<text x="57.4" y="323.13" font-size="11.3" fill="#333" text-anchor="end" textLength="28" lengthAdjust="spacingAndGlyphs">2000</text>
<line x1="62.2" y1="279.27" x2="66.4" y2="279.27" stroke="#000" stroke-width="1.5"/>
<text x="57.4" y="283.37" font-size="11.3" fill="#333" text-anchor="end" textLength="28" lengthAdjust="spacingAndGlyphs">4000</text>
<line x1="62.2" y1="239.5" x2="66.4" y2="239.5" stroke="#000" stroke-width="1.5"/>
<text x="57.4" y="243.6" font-size="11.3" fill="#333" text-anchor="end" textLength="28" lengthAdjust="spacingAndGlyphs">6000</text>
<line x1="75" y1="364.5" x2="75" y2="369.5" stroke="#000" stroke-width="1.5"/>
<text x="75" y="384.6" font-size="11.0" fill="#333" text-anchor="middle" textLength="6.3" lengthAdjust="spacingAndGlyphs">0</text>
<line x1="147.6" y1="364.5" x2="147.6" y2="369.5" stroke="#000" stroke-width="1.5"/>
<text x="147.6" y="384.6" font-size="11.0" fill="#333" text-anchor="middle" textLength="26.5" lengthAdjust="spacingAndGlyphs">1000</text>
<line x1="220.2" y1="364.5" x2="220.2" y2="369.5" stroke="#000" stroke-width="1.5"/>
<text x="220.2" y="384.6" font-size="11.0" fill="#333" text-anchor="middle" textLength="26.5" lengthAdjust="spacingAndGlyphs">2000</text>
<circle cx="76.5" cy="238" r="3.1" fill="#EBCE6E"/>
<circle cx="76.5" cy="250.9" r="3.1" fill="#67739A"/>
<text x="83.6" y="241.4" font-size="11.2" fill="#222" textLength="25" lengthAdjust="spacingAndGlyphs">MRD</text>
<text x="83.6" y="254.4" font-size="11.2" fill="#222" textLength="25" lengthAdjust="spacingAndGlyphs">MUD</text>
<text x="248.3" y="348.1" font-size="10.1" fill="#222" text-anchor="end" textLength="91.2" lengthAdjust="spacingAndGlyphs">Spearman ρ = 0.74</text>
<text x="248.3" y="359.6" font-size="10.1" fill="#222" text-anchor="end" textLength="55.8" lengthAdjust="spacingAndGlyphs">p = 1.6e-18</text>
<text x="119.3" y="403.4" font-size="13.7" fill="#111" stroke="#111" stroke-width="0.48" word-spacing="1.3" textLength="84.2" lengthAdjust="spacingAndGlyphs">Genetic differences</text>
<text transform="translate(20.6,327.8) rotate(-90)" font-size="13.6" fill="#111" stroke="#111" stroke-width="0.48" word-spacing="1.3" textLength="65.1" lengthAdjust="spacingAndGlyphs">Predicted mHA</text>
<text x="278.9" y="224.8" font-size="16.2" font-weight="bold" fill="#000" stroke="#000" stroke-width="0.45">D</text>
<g clip-path="url(#clipD)">
<polygon points="319.3,360.26 324.01,357.55 328.72,354.84 333.43,352.13 338.14,349.42 342.85,346.7 347.56,343.97 352.27,341.25 356.98,338.51 361.69,335.77 366.4,333.03 371.11,330.27 375.82,327.51 380.53,324.73 385.24,321.94 389.95,319.14 394.66,316.33 399.37,313.51 404.08,310.67 408.79,307.82 413.5,304.95 418.21,302.08 422.92,299.2 427.63,296.32 432.34,293.43 437.05,290.53 441.76,287.63 446.47,284.72 451.18,281.81 455.89,278.9 460.6,275.98 465.31,273.07 470.02,270.15 474.73,267.23 479.44,264.31 484.15,261.39 488.86,258.46 493.57,255.54 498.28,252.61 502.99,249.69 507.7,246.76 507.7,253.2 502.99,255.89 498.28,258.59 493.57,261.29 488.86,263.99 484.15,266.69 479.44,269.4 474.73,272.1 470.02,274.8 465.31,277.51 460.6,280.22 455.89,282.93 451.18,285.64 446.47,288.36 441.76,291.08 437.05,293.8 432.34,296.52 427.63,299.26 422.92,302 418.21,304.74 413.5,307.49 408.79,310.26 404.08,313.03 399.37,315.82 394.66,318.62 389.95,321.43 385.24,324.25 380.53,327.09 375.82,329.94 371.11,332.8 366.4,335.67 361.69,338.55 356.98,341.43 352.27,344.32 347.56,347.22 342.85,350.12 338.14,353.03 333.43,355.94 328.72,358.85 324.01,361.76 319.3,364.68" fill="#D5D5D5"/>
<circle cx="351.5" cy="334" r="3.1" fill="#E8B90C" fill-opacity="0.56"/>
<circle cx="357.3" cy="332.1" r="3.1" fill="#E8B90C" fill-opacity="0.56"/>
<circle cx="359.2" cy="336.9" r="3.1" fill="#E8B90C" fill-opacity="0.56"/>
<circle cx="365" cy="336" r="3.1" fill="#E8B90C" fill-opacity="0.56"/>
<circle cx="367" cy="338.8" r="3.1" fill="#E8B90C" fill-opacity="0.56"/>
<circle cx="376.5" cy="340.8" r="3.1" fill="#E8B90C" fill-opacity="0.56"/>
<circle cx="386.2" cy="336.9" r="3.1" fill="#E8B90C" fill-opacity="0.56"/>
<circle cx="365" cy="326.3" r="3.1" fill="#E8B90C" fill-opacity="0.56"/>
<circle cx="368.8" cy="321.5" r="3.1" fill="#E8B90C" fill-opacity="0.56"/>
<circle cx="372.7" cy="324.4" r="3.1" fill="#E8B90C" fill-opacity="0.56"/>
<circle cx="378.5" cy="315.8" r="3.1" fill="#E8B90C" fill-opacity="0.56"/>
<circle cx="381.3" cy="319.6" r="3.1" fill="#E8B90C" fill-opacity="0.56"/>
<circle cx="387.1" cy="312.9" r="3.1" fill="#E8B90C" fill-opacity="0.56"/>
<circle cx="389" cy="317.7" r="3.1" fill="#E8B90C" fill-opacity="0.56"/>
<circle cx="391.9" cy="323.5" r="3.1" fill="#E8B90C" fill-opacity="0.56"/>
<circle cx="394.8" cy="312.9" r="3.1" fill="#E8B90C" fill-opacity="0.56"/>
<circle cx="381.3" cy="330.2" r="3.1" fill="#E8B90C" fill-opacity="0.56"/>
<circle cx="385.2" cy="327.3" r="3.1" fill="#E8B90C" fill-opacity="0.56"/>
<circle cx="378.5" cy="332.1" r="3.1" fill="#E8B90C" fill-opacity="0.56"/>
<circle cx="400.6" cy="306.2" r="3.1" fill="#E8B90C" fill-opacity="0.56"/>
<circle cx="406.3" cy="318.7" r="3.1" fill="#E8B90C" fill-opacity="0.56"/>
<circle cx="412.1" cy="293.7" r="3.1" fill="#E8B90C" fill-opacity="0.56"/>
<circle cx="420" cy="296.5" r="3.1" fill="#E8B90C" fill-opacity="0.56"/>
<circle cx="422.7" cy="289.8" r="3.1" fill="#E8B90C" fill-opacity="0.56"/>
<circle cx="424.6" cy="290.8" r="3.1" fill="#E8B90C" fill-opacity="0.56"/>
<circle cx="427.5" cy="302.3" r="3.1" fill="#E8B90C" fill-opacity="0.56"/>
<circle cx="475.8" cy="276.7" r="3.1" fill="#E8B90C" fill-opacity="0.56"/>
<circle cx="460.4" cy="285.4" r="3.1" fill="#E8B90C" fill-opacity="0.56"/>
<circle cx="447.3" cy="296.5" r="3.1" fill="#E8B90C" fill-opacity="0.56"/>
<circle cx="427.3" cy="303.1" r="3.1" fill="#E8B90C" fill-opacity="0.56"/>
<circle cx="423.8" cy="290.2" r="3.1" fill="#E8B90C" fill-opacity="0.56"/>
<circle cx="470" cy="278" r="3.1" fill="#E8B90C" fill-opacity="0.56"/>
<circle cx="367.1" cy="338.93" r="3.1" fill="#E8B90C" fill-opacity="0.56"/>
<circle cx="365.99" cy="332.59" r="3.1" fill="#E8B90C" fill-opacity="0.56"/>
<circle cx="373.21" cy="328.67" r="3.1" fill="#E8B90C" fill-opacity="0.56"/>
<circle cx="356.17" cy="332.79" r="3.1" fill="#E8B90C" fill-opacity="0.56"/>
<circle cx="355.88" cy="340.29" r="3.1" fill="#E8B90C" fill-opacity="0.56"/>
<circle cx="362.03" cy="330.61" r="3.1" fill="#E8B90C" fill-opacity="0.56"/>
<circle cx="378.56" cy="321.21" r="3.1" fill="#E8B90C" fill-opacity="0.56"/>
<circle cx="373.49" cy="319.12" r="3.1" fill="#E8B90C" fill-opacity="0.56"/>
<circle cx="373.1" cy="322.22" r="3.1" fill="#E8B90C" fill-opacity="0.56"/>
<circle cx="380.04" cy="326.55" r="3.1" fill="#E8B90C" fill-opacity="0.56"/>
<circle cx="359.2" cy="337.9" r="3.1" fill="#E8B90C" fill-opacity="0.56"/>
<circle cx="387.04" cy="322.71" r="3.1" fill="#E8B90C" fill-opacity="0.56"/>
<circle cx="363.39" cy="326.5" r="3.1" fill="#E8B90C" fill-opacity="0.56"/>
<circle cx="383.64" cy="325.34" r="3.1" fill="#E8B90C" fill-opacity="0.56"/>
<circle cx="366.33" cy="333.06" r="3.1" fill="#E8B90C" fill-opacity="0.56"/>
<circle cx="373.98" cy="334.82" r="3.1" fill="#E8B90C" fill-opacity="0.56"/>
<circle cx="394.34" cy="314.68" r="3.1" fill="#E8B90C" fill-opacity="0.56"/>
<circle cx="395.36" cy="318.99" r="3.1" fill="#E8B90C" fill-opacity="0.56"/>
<circle cx="353.12" cy="343.73" r="3.1" fill="#E8B90C" fill-opacity="0.56"/>
<circle cx="378.37" cy="330.28" r="3.1" fill="#E8B90C" fill-opacity="0.56"/>
<circle cx="356.07" cy="340.46" r="3.1" fill="#E8B90C" fill-opacity="0.56"/>
<circle cx="373.5" cy="328.36" r="3.1" fill="#E8B90C" fill-opacity="0.56"/>
<circle cx="369.28" cy="336.57" r="3.1" fill="#E8B90C" fill-opacity="0.56"/>
<circle cx="378.24" cy="318.69" r="3.1" fill="#E8B90C" fill-opacity="0.56"/>
<circle cx="388.59" cy="316.02" r="3.1" fill="#E8B90C" fill-opacity="0.56"/>
<circle cx="371.68" cy="328.95" r="3.1" fill="#E8B90C" fill-opacity="0.56"/>
<circle cx="385.76" cy="319.73" r="3.1" fill="#E8B90C" fill-opacity="0.56"/>
<circle cx="394.91" cy="311.35" r="3.1" fill="#E8B90C" fill-opacity="0.56"/>
<circle cx="387.55" cy="317.44" r="3.1" fill="#E8B90C" fill-opacity="0.56"/>
<circle cx="371.36" cy="329.15" r="3.1" fill="#E8B90C" fill-opacity="0.56"/>
<circle cx="391.94" cy="311.81" r="3.1" fill="#E8B90C" fill-opacity="0.56"/>
<circle cx="391.3" cy="311.17" r="3.1" fill="#E8B90C" fill-opacity="0.56"/>
<circle cx="402.5" cy="317.7" r="3.1" fill="#2E4383" fill-opacity="0.6"/>
<circle cx="407.3" cy="304.2" r="3.1" fill="#2E4383" fill-opacity="0.6"/>
<circle cx="414" cy="311" r="3.1" fill="#2E4383" fill-opacity="0.6"/>
<circle cx="415" cy="300.4" r="3.1" fill="#2E4383" fill-opacity="0.6"/>
<circle cx="420.8" cy="307.1" r="3.1" fill="#2E4383" fill-opacity="0.6"/>
<circle cx="421.7" cy="298.5" r="3.1" fill="#2E4383" fill-opacity="0.6"/>
<circle cx="430.4" cy="287.9" r="3.1" fill="#2E4383" fill-opacity="0.6"/>
<circle cx="432.3" cy="296.5" r="3.1" fill="#2E4383" fill-opacity="0.6"/>
<circle cx="436.2" cy="302.3" r="3.1" fill="#2E4383" fill-opacity="0.6"/>
<circle cx="498.8" cy="232.5" r="3.1" fill="#2E4383" fill-opacity="0.6"/>
<circle cx="481.2" cy="259" r="3.1" fill="#2E4383" fill-opacity="0.6"/>
<circle cx="466.2" cy="264.8" r="3.1" fill="#2E4383" fill-opacity="0.6"/>
<circle cx="470.4" cy="265.8" r="3.1" fill="#2E4383" fill-opacity="0.6"/>
<circle cx="492.1" cy="266.7" r="3.1" fill="#2E4383" fill-opacity="0.6"/>
<circle cx="448.5" cy="268.7" r="3.1" fill="#2E4383" fill-opacity="0.6"/>
<circle cx="456.9" cy="273.8" r="3.1" fill="#2E4383" fill-opacity="0.6"/>
<circle cx="486.9" cy="273.3" r="3.1" fill="#2E4383" fill-opacity="0.6"/>
<circle cx="468.1" cy="278.7" r="3.1" fill="#2E4383" fill-opacity="0.6"/>
<circle cx="452.3" cy="285.4" r="3.1" fill="#2E4383" fill-opacity="0.6"/>
<circle cx="444.6" cy="292.1" r="3.1" fill="#2E4383" fill-opacity="0.6"/>
<circle cx="431.2" cy="287.9" r="3.1" fill="#2E4383" fill-opacity="0.6"/>
<circle cx="436.9" cy="291.5" r="3.1" fill="#2E4383" fill-opacity="0.6"/>
<circle cx="436.9" cy="302.7" r="3.1" fill="#2E4383" fill-opacity="0.6"/>
<circle cx="431.9" cy="297.9" r="3.1" fill="#2E4383" fill-opacity="0.6"/>
<circle cx="421.9" cy="307.5" r="3.1" fill="#2E4383" fill-opacity="0.6"/>
<circle cx="423" cy="309" r="3.1" fill="#2E4383" fill-opacity="0.6"/>
<circle cx="412" cy="305" r="3.1" fill="#2E4383" fill-opacity="0.6"/>
<circle cx="394.5" cy="326" r="3.1" fill="#2E4383" fill-opacity="0.6"/>
<line x1="314.3" y1="365.46" x2="512.7" y2="246.99" stroke="#000" stroke-width="2.3"/>
</g>
<rect x="319.3" y="226.2" width="188.4" height="138.7" fill="none" stroke="#000" stroke-width="1.8" />
<line x1="313.6" y1="358.75" x2="319.3" y2="358.75" stroke="#000" stroke-width="1.5"/>
<text x="310.2" y="362.75" font-size="11.3" fill="#333" text-anchor="end" textLength="6.6" lengthAdjust="spacingAndGlyphs">0</text>
<line x1="313.6" y1="305.38" x2="319.3" y2="305.38" stroke="#000" stroke-width="1.5"/>
<text x="310.2" y="309.38" font-size="11.3" fill="#333" text-anchor="end" textLength="20.5" lengthAdjust="spacingAndGlyphs">500</text>
<line x1="313.6" y1="252" x2="319.3" y2="252" stroke="#000" stroke-width="1.5"/>
<text x="310.2" y="256" font-size="11.3" fill="#333" text-anchor="end" textLength="27.4" lengthAdjust="spacingAndGlyphs">1000</text>
<line x1="327" y1="364.9" x2="327" y2="369.9" stroke="#000" stroke-width="1.5"/>
<text x="327" y="384.7" font-size="11.0" fill="#333" text-anchor="middle" textLength="6.3" lengthAdjust="spacingAndGlyphs">0</text>
<line x1="436.5" y1="364.9" x2="436.5" y2="369.9" stroke="#000" stroke-width="1.5"/>
<text x="436.5" y="384.7" font-size="11.0" fill="#333" text-anchor="middle" textLength="19.8" lengthAdjust="spacingAndGlyphs">500</text>
<circle cx="331.2" cy="238" r="3.1" fill="#EBCE6E"/>
<circle cx="331.2" cy="251.7" r="3.1" fill="#67739A"/>
<text x="338.1" y="241.4" font-size="11.2" fill="#222" textLength="25" lengthAdjust="spacingAndGlyphs">MRD</text>
<text x="338.1" y="254.4" font-size="11.2" fill="#222" textLength="25" lengthAdjust="spacingAndGlyphs">MUD</text>
<text x="499.6" y="347.7" font-size="10.1" fill="#222" text-anchor="end" textLength="91.8" lengthAdjust="spacingAndGlyphs">Spearman ρ = 0.93</text>
<text x="499.6" y="359.7" font-size="10.1" fill="#222" text-anchor="end" textLength="57" lengthAdjust="spacingAndGlyphs">p = 2.1e-45</text>
<text x="370.6" y="404.1" font-size="13.4" fill="#111" stroke="#111" stroke-width="0.48" word-spacing="1.3" textLength="85" lengthAdjust="spacingAndGlyphs">Predicted GvH mHA</text>
<text transform="translate(272.8,338.3) rotate(-90)" font-size="12.8" fill="#111" stroke="#111" stroke-width="0.48" word-spacing="1.3" textLength="86.8" lengthAdjust="spacingAndGlyphs">Predicted&#160; GvL mHA</text>
<text x="13" y="428" font-size="16.2" font-weight="bold" fill="#000" stroke="#000" stroke-width="0.45">E</text>
<line x1="104.4" y1="489.2" x2="104.4" y2="516.2" stroke="#000" stroke-width="1.4"/>
<line x1="104.4" y1="529.2" x2="104.4" y2="540.2" stroke="#000" stroke-width="1.4"/>
<rect x="87.7" y="516.2" width="33.5" height="13" fill="none" stroke="#000" stroke-width="1.35" />
<line x1="87.7" y1="523.3" x2="121.2" y2="523.3" stroke="#000" stroke-width="1.35"/>
<line x1="137.4" y1="475.4" x2="137.4" y2="516.9" stroke="#000" stroke-width="1.4"/>
<line x1="137.4" y1="529.7" x2="137.4" y2="539.2" stroke="#000" stroke-width="1.4"/>
<rect x="121.2" y="516.9" width="33.1" height="12.8" fill="none" stroke="#000" stroke-width="1.35" />
<line x1="121.2" y1="523.1" x2="154.3" y2="523.1" stroke="#000" stroke-width="1.35"/>
<line x1="192.3" y1="455.8" x2="192.3" y2="474.2" stroke="#000" stroke-width="1.4"/>
<line x1="192.3" y1="489.6" x2="192.3" y2="497.3" stroke="#000" stroke-width="1.4"/>
<rect x="175.7" y="474.2" width="32.9" height="15.4" fill="none" stroke="#000" stroke-width="1.35" />
<line x1="175.7" y1="485.3" x2="208.6" y2="485.3" stroke="#000" stroke-width="1.35"/>
<line x1="224.9" y1="474.2" x2="224.9" y2="480.7" stroke="#000" stroke-width="1.4"/>
<line x1="224.9" y1="485.3" x2="224.9" y2="497.3" stroke="#000" stroke-width="1.4"/>
<rect x="208.6" y="480.7" width="32.9" height="4.6" fill="none" stroke="#000" stroke-width="1.35" />
<line x1="208.6" y1="482.9" x2="241.5" y2="482.9" stroke="#000" stroke-width="1.35"/>
<circle cx="92.3" cy="490" r="3.1" fill="#62AC3C" fill-opacity="0.66"/>
<circle cx="108.9" cy="489.2" r="3.1" fill="#62AC3C" fill-opacity="0.66"/>
<circle cx="103.1" cy="496.9" r="3.1" fill="#62AC3C" fill-opacity="0.66"/>
<circle cx="108.5" cy="497.4" r="3.1" fill="#62AC3C" fill-opacity="0.66"/>
<circle cx="93.8" cy="510.8" r="3.1" fill="#62AC3C" fill-opacity="0.66"/>
<circle cx="108.5" cy="510.8" r="3.1" fill="#62AC3C" fill-opacity="0.66"/>
<circle cx="89.2" cy="519.2" r="3.1" fill="#62AC3C" fill-opacity="0.66"/>
<circle cx="97.7" cy="540.8" r="3.1" fill="#62AC3C" fill-opacity="0.66"/>
<circle cx="103.8" cy="537.7" r="3.1" fill="#62AC3C" fill-opacity="0.66"/>
<circle cx="89.2" cy="533" r="3.1" fill="#62AC3C" fill-opacity="0.66"/>
<circle cx="87" cy="526" r="3.1" fill="#62AC3C" fill-opacity="0.66"/>
<circle cx="110.5" cy="528" r="3.1" fill="#62AC3C" fill-opacity="0.66"/>
<circle cx="99" cy="543" r="3.1" fill="#62AC3C" fill-opacity="0.66"/>
<circle cx="93.06" cy="528.19" r="3.1" fill="#62AC3C" fill-opacity="0.66"/>
<circle cx="95.94" cy="524.83" r="3.1" fill="#62AC3C" fill-opacity="0.66"/>
<circle cx="90.31" cy="529.25" r="3.1" fill="#62AC3C" fill-opacity="0.66"/>
<circle cx="101.81" cy="515.22" r="3.1" fill="#62AC3C" fill-opacity="0.66"/>
<circle cx="101.78" cy="520.09" r="3.1" fill="#62AC3C" fill-opacity="0.66"/>
<circle cx="88.07" cy="515.59" r="3.1" fill="#62AC3C" fill-opacity="0.66"/>
<circle cx="105.55" cy="523.9" r="3.1" fill="#62AC3C" fill-opacity="0.66"/>
<circle cx="99.77" cy="514.54" r="3.1" fill="#62AC3C" fill-opacity="0.66"/>
<circle cx="102.5" cy="535.96" r="3.1" fill="#62AC3C" fill-opacity="0.66"/>
<circle cx="93.55" cy="529.27" r="3.1" fill="#62AC3C" fill-opacity="0.66"/>
<circle cx="89.64" cy="522.74" r="3.1" fill="#62AC3C" fill-opacity="0.66"/>
<circle cx="92.51" cy="536.87" r="3.1" fill="#62AC3C" fill-opacity="0.66"/>
<circle cx="104.28" cy="533.23" r="3.1" fill="#62AC3C" fill-opacity="0.66"/>
<circle cx="96.42" cy="522.58" r="3.1" fill="#62AC3C" fill-opacity="0.66"/>
<circle cx="98.54" cy="518.47" r="3.1" fill="#62AC3C" fill-opacity="0.66"/>
<circle cx="101.57" cy="511.51" r="3.1" fill="#62AC3C" fill-opacity="0.66"/>
<circle cx="102.14" cy="527.99" r="3.1" fill="#62AC3C" fill-opacity="0.66"/>
<circle cx="93.59" cy="526.11" r="3.1" fill="#62AC3C" fill-opacity="0.66"/>
<circle cx="104.35" cy="520.53" r="3.1" fill="#62AC3C" fill-opacity="0.66"/>
<circle cx="88.27" cy="533.76" r="3.1" fill="#62AC3C" fill-opacity="0.66"/>
<circle cx="89.33" cy="522.59" r="3.1" fill="#62AC3C" fill-opacity="0.66"/>
<circle cx="103.23" cy="535.86" r="3.1" fill="#62AC3C" fill-opacity="0.66"/>
<circle cx="102.87" cy="521.55" r="3.1" fill="#62AC3C" fill-opacity="0.66"/>
<circle cx="98.22" cy="533.33" r="3.1" fill="#62AC3C" fill-opacity="0.66"/>
<circle cx="98.26" cy="536.46" r="3.1" fill="#62AC3C" fill-opacity="0.66"/>
<circle cx="92.38" cy="535.48" r="3.1" fill="#62AC3C" fill-opacity="0.66"/>
<circle cx="109.52" cy="525.38" r="3.1" fill="#62AC3C" fill-opacity="0.66"/>
<circle cx="98.1" cy="523.41" r="3.1" fill="#62AC3C" fill-opacity="0.66"/>
<circle cx="106.04" cy="532.57" r="3.1" fill="#62AC3C" fill-opacity="0.66"/>
<circle cx="93.91" cy="522.26" r="3.1" fill="#62AC3C" fill-opacity="0.66"/>
<circle cx="92.62" cy="529.18" r="3.1" fill="#62AC3C" fill-opacity="0.66"/>
<circle cx="100.79" cy="522.15" r="3.1" fill="#62AC3C" fill-opacity="0.66"/>
<circle cx="91.12" cy="507" r="3.1" fill="#62AC3C" fill-opacity="0.66"/>
<circle cx="90.92" cy="521.02" r="3.1" fill="#62AC3C" fill-opacity="0.66"/>
<circle cx="106.04" cy="507.32" r="3.1" fill="#62AC3C" fill-opacity="0.66"/>
<circle cx="103.47" cy="523.08" r="3.1" fill="#62AC3C" fill-opacity="0.66"/>
<circle cx="93.09" cy="531.39" r="3.1" fill="#62AC3C" fill-opacity="0.66"/>
<circle cx="88.55" cy="518.47" r="3.1" fill="#62AC3C" fill-opacity="0.66"/>
<circle cx="88.08" cy="515.25" r="3.1" fill="#62AC3C" fill-opacity="0.66"/>
<circle cx="94.64" cy="524.46" r="3.1" fill="#62AC3C" fill-opacity="0.66"/>
<circle cx="148.5" cy="474.6" r="3.1" fill="#B0103C" fill-opacity="0.66"/>
<circle cx="144.6" cy="480.8" r="3.1" fill="#B0103C" fill-opacity="0.66"/>
<circle cx="139.2" cy="492.3" r="3.1" fill="#B0103C" fill-opacity="0.66"/>
<circle cx="137.7" cy="501.5" r="3.1" fill="#B0103C" fill-opacity="0.66"/>
<circle cx="134.6" cy="514.6" r="3.1" fill="#B0103C" fill-opacity="0.66"/>
<circle cx="150.8" cy="513.8" r="3.1" fill="#B0103C" fill-opacity="0.66"/>
<circle cx="147.7" cy="540" r="3.1" fill="#B0103C" fill-opacity="0.66"/>
<circle cx="135.4" cy="536.2" r="3.1" fill="#B0103C" fill-opacity="0.66"/>
<circle cx="132" cy="527" r="3.1" fill="#B0103C" fill-opacity="0.66"/>
<circle cx="153" cy="525" r="3.1" fill="#B0103C" fill-opacity="0.66"/>
<circle cx="142" cy="530" r="3.1" fill="#B0103C" fill-opacity="0.66"/>
<circle cx="146" cy="522" r="3.1" fill="#B0103C" fill-opacity="0.66"/>
<circle cx="135.31" cy="522.85" r="3.1" fill="#B0103C" fill-opacity="0.66"/>
<circle cx="149.3" cy="530.71" r="3.1" fill="#B0103C" fill-opacity="0.66"/>
<circle cx="132.53" cy="526.06" r="3.1" fill="#B0103C" fill-opacity="0.66"/>
<circle cx="134.9" cy="513.57" r="3.1" fill="#B0103C" fill-opacity="0.66"/>
<circle cx="151.03" cy="522.78" r="3.1" fill="#B0103C" fill-opacity="0.66"/>
<circle cx="138.3" cy="513" r="3.1" fill="#B0103C" fill-opacity="0.66"/>
<circle cx="139.94" cy="513" r="3.1" fill="#B0103C" fill-opacity="0.66"/>
<circle cx="144.28" cy="540.85" r="3.1" fill="#B0103C" fill-opacity="0.66"/>
<circle cx="139.71" cy="521.31" r="3.1" fill="#B0103C" fill-opacity="0.66"/>
<circle cx="133.47" cy="528.28" r="3.1" fill="#B0103C" fill-opacity="0.66"/>
<circle cx="134.53" cy="528.7" r="3.1" fill="#B0103C" fill-opacity="0.66"/>
<circle cx="151.21" cy="521.41" r="3.1" fill="#B0103C" fill-opacity="0.66"/>
<circle cx="137.49" cy="525.23" r="3.1" fill="#B0103C" fill-opacity="0.66"/>
<circle cx="136.3" cy="533.74" r="3.1" fill="#B0103C" fill-opacity="0.66"/>
<circle cx="139.97" cy="538.99" r="3.1" fill="#B0103C" fill-opacity="0.66"/>
<circle cx="148.74" cy="522.33" r="3.1" fill="#B0103C" fill-opacity="0.66"/>
<circle cx="145.12" cy="539.22" r="3.1" fill="#B0103C" fill-opacity="0.66"/>
<circle cx="143.48" cy="518" r="3.1" fill="#B0103C" fill-opacity="0.66"/>
<circle cx="146.89" cy="536.05" r="3.1" fill="#B0103C" fill-opacity="0.66"/>
<circle cx="141.52" cy="529.23" r="3.1" fill="#B0103C" fill-opacity="0.66"/>
<circle cx="147.55" cy="522.72" r="3.1" fill="#B0103C" fill-opacity="0.66"/>
<circle cx="133.48" cy="521.79" r="3.1" fill="#B0103C" fill-opacity="0.66"/>
<circle cx="186.6" cy="455.5" r="3.1" fill="#62AC3C" fill-opacity="0.66"/>
<circle cx="179.2" cy="466.2" r="3.1" fill="#62AC3C" fill-opacity="0.66"/>
<circle cx="178.5" cy="472.7" r="3.1" fill="#62AC3C" fill-opacity="0.66"/>
<circle cx="192.8" cy="470.4" r="3.1" fill="#62AC3C" fill-opacity="0.66"/>
<circle cx="186.2" cy="476.5" r="3.1" fill="#62AC3C" fill-opacity="0.66"/>
<circle cx="193.8" cy="477.3" r="3.1" fill="#62AC3C" fill-opacity="0.66"/>
<circle cx="176.9" cy="485.8" r="3.1" fill="#62AC3C" fill-opacity="0.66"/>
<circle cx="180.8" cy="486.2" r="3.1" fill="#62AC3C" fill-opacity="0.66"/>
<circle cx="195.4" cy="483.5" r="3.1" fill="#62AC3C" fill-opacity="0.66"/>
<circle cx="198" cy="485" r="3.1" fill="#62AC3C" fill-opacity="0.66"/>
<circle cx="196.2" cy="491.2" r="3.1" fill="#62AC3C" fill-opacity="0.66"/>
<circle cx="183.8" cy="493.5" r="3.1" fill="#62AC3C" fill-opacity="0.66"/>
<circle cx="190" cy="498.1" r="3.1" fill="#62AC3C" fill-opacity="0.66"/>
<circle cx="182" cy="480" r="3.1" fill="#62AC3C" fill-opacity="0.66"/>
<circle cx="190" cy="486" r="3.1" fill="#62AC3C" fill-opacity="0.66"/>
<circle cx="194.68" cy="486.73" r="3.1" fill="#62AC3C" fill-opacity="0.66"/>
<circle cx="184.19" cy="486.87" r="3.1" fill="#62AC3C" fill-opacity="0.66"/>
<circle cx="183.36" cy="480.87" r="3.1" fill="#62AC3C" fill-opacity="0.66"/>
<circle cx="182.68" cy="470" r="3.1" fill="#62AC3C" fill-opacity="0.66"/>
<circle cx="240.8" cy="474.2" r="3.1" fill="#B0103C" fill-opacity="0.66"/>
<circle cx="225.1" cy="479.6" r="3.1" fill="#B0103C" fill-opacity="0.66"/>
<circle cx="234.6" cy="480.7" r="3.1" fill="#B0103C" fill-opacity="0.66"/>
<circle cx="229.2" cy="490.8" r="3.1" fill="#B0103C" fill-opacity="0.66"/>
<circle cx="235.4" cy="497" r="3.1" fill="#B0103C" fill-opacity="0.66"/>
<circle cx="222" cy="482" r="3.1" fill="#B0103C" fill-opacity="0.66"/>
<circle cx="228" cy="482.5" r="3.1" fill="#B0103C" fill-opacity="0.66"/>
<line x1="67" y1="426.3" x2="67" y2="578.95" stroke="#000" stroke-width="1.9"/>
<line x1="66.05" y1="578" x2="256.4" y2="578" stroke="#000" stroke-width="1.9"/>
<line x1="62.5" y1="571.25" x2="67" y2="571.25" stroke="#000" stroke-width="1.5"/>
<text x="57.3" y="574.75" font-size="11.3" fill="#333" text-anchor="end" textLength="6.6" lengthAdjust="spacingAndGlyphs">0</text>
<line x1="62.5" y1="517.38" x2="67" y2="517.38" stroke="#000" stroke-width="1.5"/>
<text x="57.3" y="520.88" font-size="11.3" fill="#333" text-anchor="end" textLength="20.4" lengthAdjust="spacingAndGlyphs">200</text>
<line x1="62.5" y1="463.5" x2="67" y2="463.5" stroke="#000" stroke-width="1.5"/>
<text x="57.3" y="467" font-size="11.3" fill="#333" text-anchor="end" textLength="20.4" lengthAdjust="spacingAndGlyphs">400</text>
<line x1="121.2" y1="578" x2="121.2" y2="583" stroke="#000" stroke-width="1.5"/>
<text x="121.2" y="597.5" font-size="11.4" fill="#333" text-anchor="middle" textLength="26.8" lengthAdjust="spacingAndGlyphs">MRD</text>
<line x1="209" y1="578" x2="209" y2="583" stroke="#000" stroke-width="1.5"/>
<text x="209" y="597.5" font-size="11.4" fill="#333" text-anchor="middle" textLength="26.8" lengthAdjust="spacingAndGlyphs">MUD</text>
<circle cx="81.5" cy="438.7" r="3.1" fill="#9CC47E"/>
<circle cx="81.5" cy="452.5" r="3.1" fill="#BE4A6C"/>
<text x="88.6" y="442.1" font-size="11.0" fill="#222" textLength="83" lengthAdjust="spacingAndGlyphs">Relapse Negative</text>
<text x="88.6" y="455.6" font-size="11.0" fill="#222" textLength="77.7" lengthAdjust="spacingAndGlyphs">Relapse Positive</text>
<text x="120.5" y="571" font-size="10.4" fill="#222" text-anchor="middle" textLength="39.6" lengthAdjust="spacingAndGlyphs">p = 0.76</text>
<text x="208" y="571" font-size="10.4" fill="#222" text-anchor="middle" textLength="39.6" lengthAdjust="spacingAndGlyphs">p = 0.92</text>
<text transform="translate(28.7,522.6) rotate(-90)" font-size="12.8" fill="#111" stroke="#111" stroke-width="0.48" word-spacing="1.3" textLength="39.8" lengthAdjust="spacingAndGlyphs">GvL mHA</text>
<text x="279.2" y="427.5" font-size="16.2" font-weight="bold" fill="#000" stroke="#000" stroke-width="0.45">F</text>
<line x1="356" y1="471.4" x2="356" y2="519.5" stroke="#000" stroke-width="1.4"/>
<line x1="356" y1="533.2" x2="356" y2="542.7" stroke="#000" stroke-width="1.4"/>
<rect x="339.5" y="519.5" width="32.9" height="13.7" fill="none" stroke="#000" stroke-width="1.35" />
<line x1="339.5" y1="526.1" x2="372.4" y2="526.1" stroke="#000" stroke-width="1.35"/>
<line x1="388.8" y1="468" x2="388.8" y2="512.5" stroke="#000" stroke-width="1.4"/>
<line x1="388.8" y1="528.4" x2="388.8" y2="542.7" stroke="#000" stroke-width="1.4"/>
<rect x="372.4" y="512.5" width="32.9" height="15.9" fill="none" stroke="#000" stroke-width="1.35" />
<line x1="372.4" y1="523.4" x2="405.3" y2="523.4" stroke="#000" stroke-width="1.35"/>
<line x1="442.8" y1="457.3" x2="442.8" y2="475" stroke="#000" stroke-width="1.4"/>
<line x1="442.8" y1="485.8" x2="442.8" y2="515.3" stroke="#000" stroke-width="1.4"/>
<rect x="426.6" y="475" width="33.5" height="10.8" fill="none" stroke="#000" stroke-width="1.35" />
<line x1="426.6" y1="477.4" x2="460.1" y2="477.4" stroke="#000" stroke-width="1.35"/>
<line x1="476.2" y1="474.6" x2="476.2" y2="481" stroke="#000" stroke-width="1.4"/>
<line x1="476.2" y1="486.7" x2="476.2" y2="509.2" stroke="#000" stroke-width="1.4"/>
<rect x="460.1" y="481" width="32.6" height="5.7" fill="none" stroke="#000" stroke-width="1.35" />
<line x1="460.1" y1="484.1" x2="492.7" y2="484.1" stroke="#000" stroke-width="1.35"/>
<circle cx="348.5" cy="471.4" r="3.1" fill="#B0103C" fill-opacity="0.66"/>
<circle cx="354.2" cy="507.8" r="3.1" fill="#B0103C" fill-opacity="0.66"/>
<circle cx="347.3" cy="511.2" r="3.1" fill="#B0103C" fill-opacity="0.66"/>
<circle cx="340" cy="540" r="3.1" fill="#B0103C" fill-opacity="0.66"/>
<circle cx="355" cy="543" r="3.1" fill="#B0103C" fill-opacity="0.66"/>
<circle cx="360" cy="531" r="3.1" fill="#B0103C" fill-opacity="0.66"/>
<circle cx="339" cy="520" r="3.1" fill="#B0103C" fill-opacity="0.66"/>
<circle cx="352.78" cy="523.19" r="3.1" fill="#B0103C" fill-opacity="0.66"/>
<circle cx="347.28" cy="534.48" r="3.1" fill="#B0103C" fill-opacity="0.66"/>
<circle cx="342.51" cy="528.52" r="3.1" fill="#B0103C" fill-opacity="0.66"/>
<circle cx="358.03" cy="530.06" r="3.1" fill="#B0103C" fill-opacity="0.66"/>
<circle cx="349.44" cy="528.85" r="3.1" fill="#B0103C" fill-opacity="0.66"/>
<circle cx="359.93" cy="540.96" r="3.1" fill="#B0103C" fill-opacity="0.66"/>
<circle cx="348.45" cy="528.93" r="3.1" fill="#B0103C" fill-opacity="0.66"/>
<circle cx="340.91" cy="529.52" r="3.1" fill="#B0103C" fill-opacity="0.66"/>
<circle cx="346.18" cy="530.35" r="3.1" fill="#B0103C" fill-opacity="0.66"/>
<circle cx="344.43" cy="528.8" r="3.1" fill="#B0103C" fill-opacity="0.66"/>
<circle cx="350.96" cy="534.85" r="3.1" fill="#B0103C" fill-opacity="0.66"/>
<circle cx="347.67" cy="518.42" r="3.1" fill="#B0103C" fill-opacity="0.66"/>
<circle cx="347.69" cy="519.27" r="3.1" fill="#B0103C" fill-opacity="0.66"/>
<circle cx="346.1" cy="524.97" r="3.1" fill="#B0103C" fill-opacity="0.66"/>
<circle cx="340.3" cy="522.84" r="3.1" fill="#B0103C" fill-opacity="0.66"/>
<circle cx="341.64" cy="543" r="3.1" fill="#B0103C" fill-opacity="0.66"/>
<circle cx="349.57" cy="516.42" r="3.1" fill="#B0103C" fill-opacity="0.66"/>
<circle cx="343.54" cy="515.85" r="3.1" fill="#B0103C" fill-opacity="0.66"/>
<circle cx="344.69" cy="526.07" r="3.1" fill="#B0103C" fill-opacity="0.66"/>
<circle cx="348.36" cy="533.07" r="3.1" fill="#B0103C" fill-opacity="0.66"/>
<circle cx="359.03" cy="534.26" r="3.1" fill="#B0103C" fill-opacity="0.66"/>
<circle cx="339.46" cy="514.43" r="3.1" fill="#B0103C" fill-opacity="0.66"/>
<circle cx="339.68" cy="522.25" r="3.1" fill="#B0103C" fill-opacity="0.66"/>
<circle cx="348.94" cy="511.6" r="3.1" fill="#B0103C" fill-opacity="0.66"/>
<circle cx="351.33" cy="532.98" r="3.1" fill="#B0103C" fill-opacity="0.66"/>
<circle cx="358.46" cy="526.01" r="3.1" fill="#B0103C" fill-opacity="0.66"/>
<circle cx="356.34" cy="537.53" r="3.1" fill="#B0103C" fill-opacity="0.66"/>
<circle cx="344.22" cy="511.22" r="3.1" fill="#B0103C" fill-opacity="0.66"/>
<circle cx="341.29" cy="530.81" r="3.1" fill="#B0103C" fill-opacity="0.66"/>
<circle cx="353.32" cy="533.02" r="3.1" fill="#B0103C" fill-opacity="0.66"/>
<circle cx="384" cy="467.5" r="3.1" fill="#62AC3C" fill-opacity="0.66"/>
<circle cx="392.6" cy="472.3" r="3.1" fill="#62AC3C" fill-opacity="0.66"/>
<circle cx="390.9" cy="490.5" r="3.1" fill="#62AC3C" fill-opacity="0.66"/>
<circle cx="404" cy="489.3" r="3.1" fill="#62AC3C" fill-opacity="0.66"/>
<circle cx="401.3" cy="495.7" r="3.1" fill="#62AC3C" fill-opacity="0.66"/>
<circle cx="393.7" cy="499.1" r="3.1" fill="#62AC3C" fill-opacity="0.66"/>
<circle cx="393.1" cy="505.2" r="3.1" fill="#62AC3C" fill-opacity="0.66"/>
<circle cx="400.6" cy="510" r="3.1" fill="#62AC3C" fill-opacity="0.66"/>
<circle cx="387" cy="542" r="3.1" fill="#62AC3C" fill-opacity="0.66"/>
<circle cx="406" cy="530" r="3.1" fill="#62AC3C" fill-opacity="0.66"/>
<circle cx="405.1" cy="521.21" r="3.1" fill="#62AC3C" fill-opacity="0.66"/>
<circle cx="400.86" cy="513.05" r="3.1" fill="#62AC3C" fill-opacity="0.66"/>
<circle cx="393.48" cy="521.11" r="3.1" fill="#62AC3C" fill-opacity="0.66"/>
<circle cx="401.28" cy="522.37" r="3.1" fill="#62AC3C" fill-opacity="0.66"/>
<circle cx="388.08" cy="531.83" r="3.1" fill="#62AC3C" fill-opacity="0.66"/>
<circle cx="389.79" cy="518.14" r="3.1" fill="#62AC3C" fill-opacity="0.66"/>
<circle cx="385.57" cy="522.89" r="3.1" fill="#62AC3C" fill-opacity="0.66"/>
<circle cx="399.27" cy="532.96" r="3.1" fill="#62AC3C" fill-opacity="0.66"/>
<circle cx="385.19" cy="530.71" r="3.1" fill="#62AC3C" fill-opacity="0.66"/>
<circle cx="396.49" cy="526.65" r="3.1" fill="#62AC3C" fill-opacity="0.66"/>
<circle cx="391.81" cy="524.57" r="3.1" fill="#62AC3C" fill-opacity="0.66"/>
<circle cx="382.75" cy="532.36" r="3.1" fill="#62AC3C" fill-opacity="0.66"/>
<circle cx="389.74" cy="510" r="3.1" fill="#62AC3C" fill-opacity="0.66"/>
<circle cx="397.97" cy="527.32" r="3.1" fill="#62AC3C" fill-opacity="0.66"/>
<circle cx="403.71" cy="517.94" r="3.1" fill="#62AC3C" fill-opacity="0.66"/>
<circle cx="388.43" cy="523.79" r="3.1" fill="#62AC3C" fill-opacity="0.66"/>
<circle cx="405.55" cy="521.31" r="3.1" fill="#62AC3C" fill-opacity="0.66"/>
<circle cx="383.02" cy="517.24" r="3.1" fill="#62AC3C" fill-opacity="0.66"/>
<circle cx="394.46" cy="519.66" r="3.1" fill="#62AC3C" fill-opacity="0.66"/>
<circle cx="388.67" cy="516.5" r="3.1" fill="#62AC3C" fill-opacity="0.66"/>
<circle cx="398.52" cy="527.48" r="3.1" fill="#62AC3C" fill-opacity="0.66"/>
<circle cx="383.32" cy="520.73" r="3.1" fill="#62AC3C" fill-opacity="0.66"/>
<circle cx="390.61" cy="513.69" r="3.1" fill="#62AC3C" fill-opacity="0.66"/>
<circle cx="387.25" cy="528.08" r="3.1" fill="#62AC3C" fill-opacity="0.66"/>
<circle cx="401.63" cy="522.43" r="3.1" fill="#62AC3C" fill-opacity="0.66"/>
<circle cx="387.43" cy="514.72" r="3.1" fill="#62AC3C" fill-opacity="0.66"/>
<circle cx="405.78" cy="518.1" r="3.1" fill="#62AC3C" fill-opacity="0.66"/>
<circle cx="388.04" cy="535" r="3.1" fill="#62AC3C" fill-opacity="0.66"/>
<circle cx="433.8" cy="455.2" r="3.1" fill="#B0103C" fill-opacity="0.66"/>
<circle cx="442.1" cy="457.3" r="3.1" fill="#B0103C" fill-opacity="0.66"/>
<circle cx="435.2" cy="470.3" r="3.1" fill="#B0103C" fill-opacity="0.66"/>
<circle cx="427.3" cy="472" r="3.1" fill="#B0103C" fill-opacity="0.66"/>
<circle cx="429.5" cy="476.3" r="3.1" fill="#B0103C" fill-opacity="0.66"/>
<circle cx="446.8" cy="476.3" r="3.1" fill="#B0103C" fill-opacity="0.66"/>
<circle cx="428.3" cy="481.5" r="3.1" fill="#B0103C" fill-opacity="0.66"/>
<circle cx="434.7" cy="485.8" r="3.1" fill="#B0103C" fill-opacity="0.66"/>
<circle cx="430.7" cy="491" r="3.1" fill="#B0103C" fill-opacity="0.66"/>
<circle cx="436" cy="490" r="3.1" fill="#B0103C" fill-opacity="0.66"/>
<circle cx="445.6" cy="503.1" r="3.1" fill="#B0103C" fill-opacity="0.66"/>
<circle cx="443.9" cy="515.3" r="3.1" fill="#B0103C" fill-opacity="0.66"/>
<circle cx="438" cy="475" r="3.1" fill="#B0103C" fill-opacity="0.66"/>
<circle cx="441" cy="477" r="3.1" fill="#B0103C" fill-opacity="0.66"/>
<circle cx="432" cy="476" r="3.1" fill="#B0103C" fill-opacity="0.66"/>
<circle cx="431.99" cy="478.27" r="3.1" fill="#B0103C" fill-opacity="0.66"/>
<circle cx="445.13" cy="473.83" r="3.1" fill="#B0103C" fill-opacity="0.66"/>
<circle cx="436.92" cy="479.36" r="3.1" fill="#B0103C" fill-opacity="0.66"/>
<circle cx="490.9" cy="474.6" r="3.1" fill="#62AC3C" fill-opacity="0.66"/>
<circle cx="488.3" cy="479" r="3.1" fill="#62AC3C" fill-opacity="0.66"/>
<circle cx="485.7" cy="481.5" r="3.1" fill="#62AC3C" fill-opacity="0.66"/>
<circle cx="481.4" cy="484.1" r="3.1" fill="#62AC3C" fill-opacity="0.66"/>
<circle cx="478.8" cy="486.7" r="3.1" fill="#62AC3C" fill-opacity="0.66"/>
<circle cx="492.7" cy="485" r="3.1" fill="#62AC3C" fill-opacity="0.66"/>
<circle cx="483.7" cy="499.7" r="3.1" fill="#62AC3C" fill-opacity="0.66"/>
<circle cx="472.8" cy="509.6" r="3.1" fill="#62AC3C" fill-opacity="0.66"/>
<circle cx="476" cy="488" r="3.1" fill="#62AC3C" fill-opacity="0.66"/>
<circle cx="470" cy="485" r="3.1" fill="#62AC3C" fill-opacity="0.66"/>
<line x1="318.8" y1="426.3" x2="318.8" y2="578.95" stroke="#000" stroke-width="1.9"/>
<line x1="317.85" y1="578" x2="503.3" y2="578" stroke="#000" stroke-width="1.9"/>
<line x1="314.2" y1="571.5" x2="318.8" y2="571.5" stroke="#000" stroke-width="1.5"/>
<text x="309.4" y="575.1" font-size="11.3" fill="#333" text-anchor="end" textLength="6.6" lengthAdjust="spacingAndGlyphs">0</text>
<line x1="314.2" y1="505.38" x2="318.8" y2="505.38" stroke="#000" stroke-width="1.5"/>
<text x="309.4" y="508.98" font-size="11.3" fill="#333" text-anchor="end" textLength="20.4" lengthAdjust="spacingAndGlyphs">200</text>
<line x1="314.2" y1="439.25" x2="318.8" y2="439.25" stroke="#000" stroke-width="1.5"/>
<text x="309.4" y="442.85" font-size="11.3" fill="#333" text-anchor="end" textLength="20.4" lengthAdjust="spacingAndGlyphs">400</text>
<line x1="372" y1="578" x2="372" y2="583" stroke="#000" stroke-width="1.5"/>
<text x="372" y="597.6" font-size="11.4" fill="#333" text-anchor="middle" textLength="26.8" lengthAdjust="spacingAndGlyphs">MRD</text>
<line x1="460.4" y1="578" x2="460.4" y2="583" stroke="#000" stroke-width="1.5"/>
<text x="460.4" y="597.6" font-size="11.4" fill="#333" text-anchor="middle" textLength="26.8" lengthAdjust="spacingAndGlyphs">MUD</text>
<circle cx="340" cy="438" r="3.1" fill="#BE4A6C"/>
<circle cx="340" cy="451.8" r="3.1" fill="#9CC47E"/>
<text x="347" y="441.3" font-size="11.0" fill="#222" textLength="69.8" lengthAdjust="spacingAndGlyphs">GvHD Positive</text>
<text x="347" y="455.1" font-size="11.0" fill="#222" textLength="75" lengthAdjust="spacingAndGlyphs">GvHD Negative</text>
<text x="373.4" y="570.2" font-size="10.4" fill="#222" text-anchor="middle" textLength="40.5" lengthAdjust="spacingAndGlyphs">p = 0.08</text>
<text x="459.4" y="570.2" font-size="10.4" fill="#222" text-anchor="middle" textLength="38.1" lengthAdjust="spacingAndGlyphs">p = 0.11</text>
<text transform="translate(279.8,522.5) rotate(-90)" font-size="12.8" fill="#111" stroke="#111" stroke-width="0.48" word-spacing="1.3" textLength="40.6" lengthAdjust="spacingAndGlyphs">GvH&#160; mHA</text>
<rect x="1" y="1" width="518" height="605" fill="none" stroke="#000" stroke-width="2"/>
</svg>
</body></html>
